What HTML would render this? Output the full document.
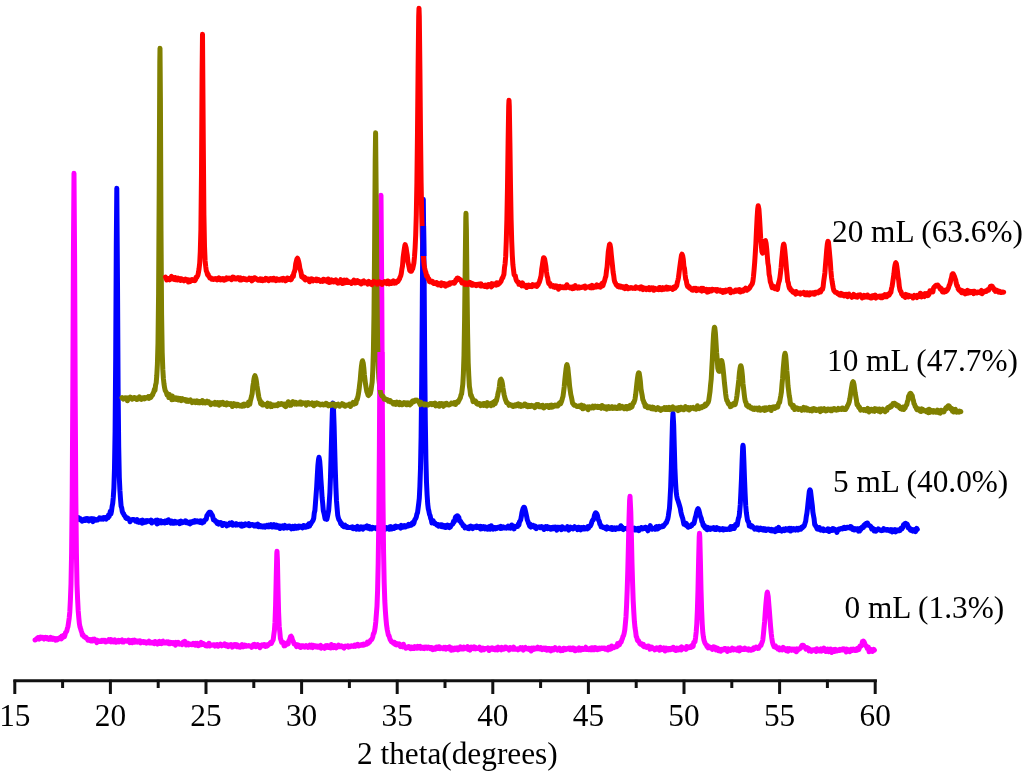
<!DOCTYPE html>
<html><head><meta charset="utf-8"><title>XRD patterns</title>
<style>html,body{margin:0;padding:0;background:#fff;width:1024px;height:779px;overflow:hidden}svg{display:block;filter:blur(0.5px)}</style>
</head><body>
<svg width="1024" height="779" viewBox="0 0 1024 779">
<defs><clipPath id="cp"><rect x="418" y="226" width="11" height="30"/></clipPath><clipPath id="cp2"><rect x="370" y="352" width="20" height="38"/></clipPath></defs>
<rect width="1024" height="779" fill="#fff"/>
<g fill="none" stroke-width="5.0" stroke-linejoin="round" stroke-linecap="round">
<polyline stroke="#0000ff" points="78.5,517.7 79.1,518.1 79.7,519.6 80.3,518.7 80.9,519.4 81.5,519.5 82.1,521.1 82.7,520.6 83.3,519.5 83.9,520.6 84.5,519.0 85.1,519.3 85.7,520.3 86.3,518.6 86.9,519.4 87.5,518.6 88.1,519.7 88.7,520.9 89.3,519.0 89.9,519.8 90.5,518.9 91.1,518.7 91.7,518.6 92.3,520.8 92.9,521.5 93.5,520.0 94.1,519.0 94.7,520.1 95.3,519.3 95.9,520.2 96.5,519.7 97.1,519.7 97.7,519.9 98.3,518.9 98.9,519.0 99.5,517.9 100.1,518.9 100.7,518.1 101.3,519.0 101.9,518.3 102.5,519.0 103.1,519.2 103.7,517.5 104.3,517.9 104.9,517.6 105.5,518.7 106.1,519.2 106.7,518.2 107.3,516.9 107.9,517.9 108.5,515.0 109.1,516.7 109.7,514.1 110.3,511.3 110.9,514.1 111.5,511.3 112.1,506.5 112.7,503.5 113.3,497.2 113.9,487.8 114.5,468.3 115.1,431.3 115.7,357.3 116.3,244.0 116.8,188.2 117.5,283.2 118.1,388.4 118.7,447.1 119.3,477.3 119.9,490.2 120.5,498.9 121.1,506.2 121.7,507.8 122.3,511.5 122.9,512.9 123.5,513.5 124.1,515.1 124.7,515.8 125.3,516.5 125.9,518.0 126.5,518.4 127.1,517.8 127.7,517.9 128.3,519.1 128.9,519.1 129.5,520.2 130.1,521.7 130.7,520.4 131.3,519.8 131.9,519.8 132.5,519.4 133.1,519.4 133.7,519.5 134.3,520.0 134.9,520.1 135.5,521.1 136.1,520.2 136.7,520.5 137.3,519.7 137.9,522.0 138.5,521.2 139.1,522.3 139.7,521.5 140.3,522.1 140.9,520.7 141.5,521.6 142.1,523.2 142.7,520.1 143.3,522.0 143.9,522.5 144.5,521.5 145.1,521.8 145.7,522.2 146.3,520.7 146.9,521.6 147.5,520.6 148.1,520.7 148.7,520.8 149.3,521.2 149.9,521.5 150.5,521.8 151.1,520.2 151.7,523.0 152.3,522.4 152.9,522.1 153.5,521.2 154.1,521.4 154.7,522.0 155.3,521.9 155.9,520.2 156.5,522.2 157.1,524.0 157.7,520.1 158.3,522.4 158.9,521.9 159.5,521.6 160.1,522.8 160.7,520.7 161.3,521.8 161.9,522.9 162.5,521.6 163.1,521.4 163.7,521.8 164.3,521.4 164.9,523.0 165.5,521.0 166.1,522.5 166.7,520.8 167.3,522.4 167.9,521.8 168.5,519.7 169.1,521.9 169.7,521.0 170.3,521.5 170.9,523.2 171.5,521.0 172.1,521.1 172.7,523.1 173.3,522.0 173.9,523.2 174.5,522.2 175.1,521.3 175.7,521.9 176.3,523.0 176.9,522.8 177.5,522.0 178.1,522.1 178.7,522.0 179.3,521.6 179.9,523.7 180.5,522.1 181.1,521.2 181.7,521.7 182.3,522.7 182.9,522.6 183.5,522.0 184.1,521.6 184.7,522.2 185.3,520.8 185.9,521.1 186.5,522.8 187.1,521.8 187.7,522.5 188.3,523.2 188.9,522.7 189.5,522.2 190.1,523.9 190.7,522.8 191.3,521.9 191.9,522.8 192.5,522.5 193.1,521.5 193.7,522.3 194.3,522.1 194.9,520.6 195.5,522.0 196.1,521.9 196.7,521.8 197.3,520.8 197.9,521.8 198.5,522.1 199.1,522.1 199.7,521.1 200.3,522.5 200.9,520.9 201.5,521.7 202.1,522.9 202.7,521.1 203.3,521.0 203.9,522.0 204.5,520.3 205.1,519.8 205.7,519.5 206.3,519.2 206.9,515.4 207.5,515.3 208.1,513.8 208.7,512.9 209.3,512.3 209.9,512.2 210.0,512.2 210.5,512.3 211.1,513.3 211.7,514.7 212.3,515.2 212.9,517.3 213.5,519.8 214.1,519.8 214.7,519.9 215.3,521.2 215.9,521.0 216.5,522.4 217.1,523.3 217.7,522.1 218.3,522.8 218.9,524.1 219.5,522.9 220.1,523.5 220.7,522.6 221.3,522.9 221.9,523.2 222.5,525.5 223.1,523.5 223.7,523.4 224.3,523.5 224.9,523.9 225.5,524.6 226.1,524.2 226.7,525.8 227.3,524.3 227.9,525.4 228.5,524.5 229.1,524.8 229.7,523.2 230.3,524.3 230.9,524.3 231.5,524.2 232.1,522.7 232.7,525.2 233.3,524.2 233.9,524.2 234.5,524.4 235.1,524.5 235.7,525.0 236.3,523.7 236.9,524.0 237.5,525.0 238.1,524.9 238.7,524.5 239.3,524.4 239.9,524.2 240.5,524.9 241.1,525.9 241.7,524.1 242.3,526.2 242.9,525.7 243.5,524.7 244.1,525.7 244.7,524.0 245.3,523.8 245.9,524.2 246.5,524.9 247.1,525.0 247.7,524.9 248.3,525.4 248.9,523.6 249.5,525.8 250.1,524.3 250.7,524.9 251.3,525.1 251.9,524.6 252.5,524.4 253.1,524.7 253.7,525.6 254.3,526.1 254.9,526.1 255.5,524.9 256.1,525.1 256.7,525.0 257.3,526.1 257.9,524.1 258.5,526.8 259.1,525.4 259.7,525.2 260.3,526.1 260.9,526.7 261.5,526.2 262.1,526.8 262.7,526.1 263.3,527.0 263.9,527.0 264.5,526.0 265.1,527.2 265.7,526.3 266.3,526.2 266.9,525.4 267.5,526.0 268.1,526.8 268.7,525.2 269.3,526.8 269.9,526.6 270.5,526.6 271.1,524.6 271.7,526.3 272.3,526.9 272.9,525.8 273.5,526.5 274.1,524.6 274.7,527.0 275.3,526.0 275.9,527.2 276.5,525.1 277.1,527.2 277.7,526.4 278.3,527.3 278.9,525.9 279.5,526.2 280.1,528.5 280.7,526.1 281.3,526.2 281.9,526.6 282.5,526.0 283.1,527.8 283.7,528.2 284.3,526.3 284.9,525.5 285.5,527.8 286.1,527.8 286.7,527.6 287.3,527.9 287.9,526.3 288.5,526.8 289.1,525.9 289.7,525.9 290.3,527.8 290.9,526.5 291.5,528.9 292.1,527.1 292.7,526.5 293.3,527.7 293.9,528.5 294.5,527.5 295.1,526.1 295.7,527.4 296.3,528.2 296.9,526.7 297.5,526.4 298.1,527.9 298.7,527.1 299.3,526.1 299.9,526.7 300.5,526.4 301.1,527.2 301.7,527.0 302.3,527.8 302.9,527.4 303.5,525.5 304.1,527.0 304.7,527.3 305.3,526.9 305.9,527.2 306.5,525.9 307.1,525.4 307.7,526.7 308.3,524.9 308.9,523.8 309.5,526.1 310.1,524.4 310.7,524.2 311.3,522.8 311.9,522.0 312.5,521.1 313.1,520.1 313.7,518.4 314.3,512.8 314.9,510.5 315.5,502.6 316.1,494.7 316.7,486.6 317.3,475.7 317.9,465.5 318.5,459.6 319.0,457.2 319.7,460.9 320.3,468.7 320.9,479.5 321.5,487.9 322.1,497.8 322.7,503.6 323.3,510.5 323.9,512.8 324.5,515.6 325.1,518.9 325.7,518.3 326.3,518.2 326.9,519.3 327.5,516.5 328.1,513.2 328.7,510.2 329.3,501.6 329.9,492.5 330.5,476.9 331.1,455.4 331.7,433.1 332.3,413.4 332.9,403.4 333.0,403.2 333.5,408.9 334.1,425.6 334.7,448.8 335.3,470.2 335.9,487.7 336.5,500.9 337.1,508.2 337.7,515.1 338.3,517.8 338.9,519.6 339.5,520.4 340.1,521.5 340.7,523.6 341.3,523.1 341.9,524.4 342.5,525.7 343.1,526.0 343.7,526.7 344.3,525.5 344.9,525.1 345.5,526.9 346.1,526.5 346.7,527.3 347.3,526.6 347.9,527.6 348.5,527.5 349.1,527.4 349.7,527.4 350.3,527.4 350.9,527.3 351.5,527.3 352.1,528.0 352.7,526.9 353.3,528.7 353.9,527.3 354.5,528.2 355.1,527.4 355.7,527.3 356.3,529.1 356.9,527.3 357.5,526.5 358.1,527.0 358.7,527.3 359.3,529.3 359.9,527.8 360.5,528.4 361.1,526.8 361.7,527.9 362.3,528.2 362.9,529.1 363.5,527.1 364.1,528.2 364.7,528.0 365.3,526.9 365.9,527.7 366.5,527.5 367.1,525.9 367.7,528.2 368.3,528.2 368.9,527.4 369.5,526.7 370.1,528.9 370.7,528.0 371.3,528.6 371.9,528.9 372.5,527.4 373.1,528.4 373.7,527.6 374.3,527.7 374.9,527.7 375.5,527.8 376.1,528.7 376.7,527.9 377.3,527.6 377.9,527.5 378.5,528.0 379.1,527.0 379.7,527.3 380.3,527.7 380.9,527.3 381.5,527.6 382.1,527.2 382.7,529.3 383.3,528.8 383.9,528.0 384.5,527.6 385.1,529.4 385.7,527.9 386.3,527.6 386.9,527.9 387.5,527.9 388.1,528.7 388.7,527.6 389.3,529.3 389.9,526.9 390.5,528.1 391.1,526.7 391.7,529.0 392.3,527.2 392.9,527.4 393.5,528.2 394.1,528.4 394.7,526.5 395.3,527.1 395.9,526.2 396.5,527.4 397.1,527.2 397.7,526.9 398.3,526.6 398.9,526.8 399.5,526.5 400.1,527.5 400.7,528.2 401.3,525.4 401.9,526.8 402.5,526.5 403.1,527.1 403.7,525.9 404.3,526.4 404.9,525.6 405.5,526.9 406.1,526.3 406.7,525.9 407.3,526.2 407.9,525.6 408.5,524.3 409.1,525.8 409.7,525.3 410.3,524.7 410.9,525.3 411.5,525.1 412.1,522.9 412.7,522.6 413.3,523.9 413.9,523.1 414.5,520.6 415.1,519.2 415.7,518.4 416.3,517.0 416.9,514.1 417.5,512.8 418.1,508.3 418.7,503.6 419.3,498.3 419.9,486.2 420.5,468.3 421.1,436.8 421.7,383.1 422.3,303.5 422.9,221.5 423.3,199.2 424.1,274.6 424.7,359.2 425.3,420.3 425.9,459.5 426.5,482.2 427.1,494.9 427.7,503.9 428.3,508.9 428.9,511.2 429.5,514.4 430.1,515.6 430.7,518.5 431.3,519.8 431.9,522.9 432.5,521.7 433.1,520.7 433.7,522.4 434.3,523.5 434.9,522.9 435.5,523.6 436.1,524.3 436.7,525.1 437.3,524.9 437.9,524.6 438.5,526.1 439.1,525.2 439.7,525.4 440.3,524.8 440.9,525.4 441.5,526.6 442.1,524.9 442.7,526.2 443.3,526.9 443.9,526.1 444.5,526.6 445.1,525.5 445.7,527.5 446.3,527.3 446.9,526.6 447.5,525.0 448.1,525.5 448.7,527.1 449.3,527.6 449.9,526.3 450.5,526.8 451.1,525.0 451.7,524.8 452.3,524.3 452.9,523.8 453.5,521.3 454.1,522.0 454.7,521.0 455.3,517.6 455.9,516.5 456.5,516.3 457.1,515.7 457.2,515.7 457.7,516.0 458.3,516.8 458.9,517.6 459.5,521.0 460.1,520.8 460.7,521.5 461.3,523.3 461.9,523.3 462.5,524.3 463.1,525.8 463.7,525.5 464.3,525.9 464.9,527.9 465.5,527.4 466.1,527.5 466.7,527.4 467.3,527.4 467.9,528.3 468.5,527.1 469.1,528.7 469.7,526.5 470.3,527.1 470.9,526.2 471.5,527.1 472.1,527.8 472.7,528.5 473.3,526.9 473.9,527.4 474.5,527.1 475.1,526.9 475.7,526.5 476.3,527.5 476.9,526.1 477.5,527.6 478.1,527.5 478.7,527.0 479.3,526.7 479.9,526.4 480.5,529.0 481.1,526.5 481.7,528.8 482.3,528.0 482.9,527.3 483.5,526.6 484.1,528.4 484.7,528.9 485.3,526.8 485.9,527.3 486.5,528.4 487.1,527.8 487.7,529.2 488.3,527.1 488.9,528.0 489.5,526.6 490.1,529.2 490.7,527.0 491.3,525.8 491.9,527.5 492.5,527.4 493.1,529.1 493.7,527.3 494.3,527.5 494.9,528.0 495.5,528.8 496.1,527.5 496.7,528.4 497.3,527.9 497.9,527.3 498.5,527.6 499.1,527.5 499.7,526.8 500.3,528.5 500.9,526.4 501.5,528.4 502.1,528.3 502.7,527.4 503.3,526.9 503.9,527.3 504.5,527.9 505.1,528.1 505.7,527.7 506.3,528.2 506.9,527.0 507.5,527.6 508.1,526.1 508.7,528.0 509.3,527.5 509.9,527.0 510.5,528.2 511.1,527.8 511.7,525.0 512.3,527.2 512.9,525.9 513.5,527.9 514.1,528.9 514.7,526.4 515.3,526.8 515.9,526.3 516.5,526.6 517.1,526.5 517.7,526.5 518.3,524.0 518.9,525.1 519.5,521.8 520.1,521.0 520.7,519.7 521.3,516.8 521.9,512.8 522.5,510.5 523.1,508.5 523.7,507.4 524.0,507.2 524.3,507.2 524.9,508.9 525.5,511.3 526.1,514.1 526.7,516.7 527.3,520.0 527.9,521.3 528.5,523.3 529.1,524.4 529.7,526.3 530.3,524.1 530.9,527.1 531.5,526.2 532.1,526.5 532.7,526.1 533.3,525.5 533.9,526.8 534.5,526.7 535.1,527.7 535.7,526.2 536.3,528.6 536.9,527.7 537.5,527.4 538.1,527.1 538.7,527.0 539.3,526.8 539.9,527.3 540.5,527.8 541.1,527.6 541.7,526.7 542.3,527.6 542.9,527.1 543.5,528.0 544.1,529.4 544.7,528.4 545.3,527.7 545.9,526.6 546.5,526.8 547.1,526.6 547.7,528.6 548.3,527.4 548.9,528.1 549.5,527.5 550.1,528.1 550.7,529.2 551.3,527.5 551.9,527.8 552.5,527.4 553.1,528.8 553.7,527.3 554.3,527.2 554.9,527.0 555.5,527.0 556.1,528.5 556.7,530.2 557.3,527.3 557.9,528.9 558.5,528.4 559.1,527.3 559.7,527.9 560.3,528.0 560.9,527.6 561.5,529.7 562.1,526.7 562.7,528.5 563.3,528.5 563.9,527.7 564.5,528.3 565.1,528.9 565.7,528.3 566.3,528.6 566.9,528.8 567.5,526.6 568.1,529.4 568.7,530.1 569.3,529.0 569.9,529.0 570.5,527.1 571.1,528.1 571.7,527.6 572.3,527.8 572.9,529.0 573.5,527.6 574.1,528.1 574.7,526.7 575.3,528.1 575.9,528.3 576.5,527.7 577.1,527.6 577.7,529.7 578.3,527.2 578.9,527.4 579.5,527.5 580.1,529.1 580.7,529.8 581.3,528.4 581.9,527.5 582.5,527.7 583.1,528.9 583.7,527.3 584.3,529.1 584.9,529.1 585.5,527.9 586.1,528.3 586.7,528.3 587.3,528.8 587.9,526.6 588.5,528.2 589.1,526.6 589.7,525.9 590.3,526.0 590.9,524.9 591.5,523.1 592.1,521.2 592.7,520.0 593.3,520.0 593.9,518.2 594.5,515.1 595.1,513.6 595.7,512.7 595.8,512.7 596.3,513.2 596.9,514.0 597.5,515.7 598.1,518.6 598.7,520.3 599.3,521.4 599.9,524.1 600.5,524.7 601.1,526.7 601.7,526.5 602.3,526.7 602.9,527.4 603.5,527.4 604.1,527.2 604.7,527.5 605.3,528.5 605.9,528.5 606.5,529.1 607.1,526.8 607.7,527.9 608.3,527.9 608.9,528.4 609.5,528.0 610.1,527.9 610.7,529.0 611.3,528.6 611.9,527.5 612.5,529.5 613.1,529.3 613.7,528.0 614.3,529.2 614.9,527.9 615.5,529.4 616.1,528.4 616.7,527.9 617.3,528.3 617.9,528.0 618.5,528.8 619.1,528.7 619.7,528.6 620.3,528.2 620.9,525.7 621.5,528.7 622.1,527.1 622.7,528.8 623.3,529.6 623.9,528.9 624.5,528.4 625.1,528.5 625.7,528.6 626.3,528.2 626.9,528.2 627.5,528.0 628.1,529.6 628.7,528.7 629.3,529.5 629.9,528.5 630.5,528.8 631.1,528.6 631.7,529.1 632.3,529.4 632.9,528.9 633.5,528.2 634.1,528.1 634.7,530.0 635.3,528.5 635.9,528.5 636.5,529.9 637.1,529.6 637.7,529.1 638.3,528.4 638.9,530.6 639.5,529.0 640.1,529.1 640.7,528.5 641.3,527.5 641.9,527.6 642.5,529.0 643.1,528.9 643.7,528.4 644.3,527.7 644.9,527.4 645.5,528.3 646.1,527.4 646.7,529.3 647.3,529.5 647.9,530.8 648.5,529.2 649.1,528.0 649.7,527.7 650.3,525.6 650.9,527.9 651.5,528.2 652.1,529.1 652.7,528.7 653.3,528.7 653.9,528.3 654.5,528.6 655.1,529.2 655.7,527.1 656.3,527.5 656.9,526.7 657.5,529.0 658.1,528.6 658.7,528.1 659.3,526.4 659.9,527.3 660.5,526.8 661.1,526.9 661.7,526.4 662.3,526.7 662.9,525.7 663.5,526.3 664.1,525.3 664.7,524.4 665.3,523.9 665.9,522.8 666.5,522.7 667.1,520.5 667.7,519.2 668.3,516.2 668.9,511.8 669.5,508.2 670.1,498.2 670.7,486.6 671.3,467.8 671.9,443.3 672.5,421.3 673.0,413.2 673.7,425.5 674.3,447.0 674.9,468.2 675.5,481.7 676.1,491.2 676.7,495.7 677.3,498.9 677.9,500.4 678.5,502.2 678.5,502.2 679.1,504.2 679.7,506.3 680.3,508.4 680.9,512.0 681.5,514.8 682.1,516.7 682.7,518.3 683.3,521.2 683.9,524.2 684.5,523.1 685.1,524.5 685.7,525.2 686.3,523.3 686.9,525.9 687.5,525.5 688.1,527.3 688.7,526.2 689.3,525.8 689.9,526.2 690.5,526.4 691.1,525.6 691.7,525.7 692.3,524.1 692.9,524.1 693.5,523.8 694.1,523.1 694.7,520.2 695.3,517.5 695.9,515.7 696.5,512.8 697.1,510.7 697.7,509.0 698.0,508.7 698.3,508.9 698.9,510.3 699.5,512.6 700.1,515.2 700.7,517.0 701.3,518.4 701.9,521.6 702.5,522.2 703.1,525.2 703.7,526.1 704.3,525.4 704.9,527.8 705.5,528.3 706.1,527.9 706.7,529.4 707.3,529.7 707.9,527.4 708.5,529.3 709.1,528.9 709.7,528.9 710.3,529.4 710.9,528.1 711.5,528.3 712.1,528.1 712.7,528.2 713.3,528.8 713.9,527.7 714.5,528.1 715.1,529.4 715.7,528.9 716.3,529.3 716.9,527.5 717.5,528.4 718.1,528.6 718.7,529.0 719.3,528.6 719.9,529.8 720.5,529.0 721.1,529.0 721.7,529.0 722.3,529.6 722.9,528.6 723.5,529.9 724.1,529.3 724.7,529.0 725.3,528.9 725.9,529.2 726.5,529.6 727.1,529.5 727.7,529.0 728.3,529.3 728.9,528.6 729.5,529.4 730.1,528.3 730.7,526.5 731.3,529.1 731.9,528.0 732.5,526.7 733.1,527.3 733.7,526.5 734.3,528.5 734.9,526.8 735.5,524.6 736.1,525.7 736.7,524.1 737.3,524.9 737.9,521.0 738.5,518.0 739.1,516.7 739.7,511.6 740.3,504.2 740.9,491.8 741.5,478.7 742.1,461.4 742.7,447.0 743.0,445.2 743.3,447.2 743.9,461.7 744.5,478.7 745.1,493.4 745.7,505.4 746.3,512.4 746.9,516.3 747.5,520.4 748.1,521.5 748.7,522.0 749.3,526.1 749.9,525.1 750.5,525.5 751.1,526.8 751.7,525.7 752.3,526.2 752.9,527.2 753.5,527.4 754.1,528.1 754.7,529.1 755.3,528.0 755.9,528.9 756.5,529.1 757.1,527.9 757.7,529.0 758.3,528.2 758.9,529.8 759.5,529.4 760.1,529.1 760.7,528.1 761.3,529.3 761.9,528.7 762.5,529.9 763.1,529.3 763.7,528.7 764.3,530.2 764.9,530.0 765.5,529.0 766.1,530.4 766.7,529.3 767.3,529.3 767.9,529.7 768.5,529.0 769.1,529.2 769.7,529.5 770.3,530.8 770.9,530.8 771.5,529.4 772.1,530.9 772.7,529.6 773.3,530.0 773.9,530.4 774.5,529.9 775.1,531.6 775.7,529.9 776.3,528.8 776.9,530.8 777.5,529.4 778.1,529.5 778.7,527.3 779.3,530.5 779.9,530.4 780.5,530.4 781.1,530.5 781.7,531.1 782.3,529.7 782.9,530.5 783.5,529.1 784.1,529.5 784.7,530.6 785.3,530.0 785.9,528.7 786.5,530.0 787.1,529.6 787.7,529.0 788.3,530.0 788.9,529.4 789.5,528.4 790.1,528.8 790.7,531.0 791.3,528.4 791.9,529.8 792.5,530.1 793.1,530.0 793.7,528.5 794.3,529.2 794.9,529.5 795.5,530.0 796.1,528.8 796.7,528.3 797.3,530.0 797.9,530.0 798.5,529.3 799.1,528.4 799.7,529.1 800.3,528.7 800.9,529.1 801.5,527.2 802.1,528.0 802.7,527.4 803.3,526.1 803.9,526.4 804.5,525.1 805.1,523.0 805.7,521.2 806.3,516.5 806.9,513.3 807.5,508.4 808.1,502.5 808.7,497.1 809.3,491.6 809.9,489.7 810.0,489.7 810.5,490.9 811.1,495.7 811.7,500.7 812.3,505.5 812.9,512.3 813.5,515.6 814.1,518.8 814.7,524.8 815.3,524.9 815.9,526.5 816.5,527.3 817.1,528.9 817.7,528.1 818.3,529.2 818.9,527.6 819.5,527.6 820.1,530.0 820.7,530.2 821.3,529.5 821.9,529.4 822.5,529.4 823.1,528.8 823.7,530.7 824.3,530.0 824.9,530.0 825.5,529.9 826.1,530.5 826.7,530.1 827.3,530.3 827.9,528.8 828.5,530.2 829.1,531.5 829.7,529.4 830.3,529.7 830.9,530.6 831.5,530.6 832.1,530.4 832.7,528.6 833.3,530.3 833.9,528.9 834.5,529.2 835.1,530.3 835.7,529.6 836.3,530.5 836.9,532.4 837.5,530.5 838.1,530.4 838.7,529.0 839.3,529.2 839.9,528.8 840.5,529.1 841.1,528.5 841.7,528.7 842.3,528.9 842.9,528.1 843.5,527.5 844.1,527.3 844.7,528.5 845.3,528.0 845.9,528.5 846.5,528.1 847.1,527.2 847.7,527.3 848.0,527.2 848.3,527.5 848.9,527.7 849.5,527.3 850.1,526.7 850.7,528.2 851.3,526.7 851.9,527.8 852.5,529.3 853.1,528.9 853.7,528.7 854.3,530.0 854.9,528.5 855.5,529.7 856.1,529.1 856.7,528.9 857.3,530.0 857.9,528.8 858.5,531.1 859.1,529.1 859.7,531.0 860.3,528.4 860.9,529.5 861.5,527.7 862.1,527.1 862.7,527.8 863.3,527.5 863.9,525.2 864.5,526.3 865.1,524.0 865.7,523.8 866.3,523.4 866.8,523.2 867.5,523.0 868.1,525.0 868.7,525.4 869.3,525.5 869.9,525.9 870.5,526.1 871.1,527.0 871.7,529.0 872.3,528.7 872.9,528.4 873.5,529.1 874.1,531.0 874.7,529.6 875.3,529.5 875.9,531.1 876.5,530.4 877.1,530.1 877.7,529.7 878.3,528.9 878.9,529.3 879.5,529.8 880.1,530.1 880.7,530.5 881.3,530.7 881.9,530.5 882.5,530.5 883.1,529.5 883.7,528.6 884.3,529.9 884.9,529.6 885.5,529.8 886.1,530.1 886.7,529.4 887.3,529.5 887.9,530.3 888.5,530.5 889.1,529.8 889.7,530.8 890.3,530.2 890.9,529.6 891.5,530.4 892.1,531.9 892.7,529.8 893.3,531.3 893.9,531.4 894.5,531.5 895.1,529.6 895.7,531.9 896.3,530.3 896.9,530.0 897.5,530.0 898.1,530.6 898.7,530.0 899.3,529.7 899.9,530.7 900.5,528.8 901.1,528.1 901.7,529.0 902.3,528.1 902.9,527.5 903.5,524.7 904.1,525.2 904.7,523.8 905.3,523.4 905.5,523.2 905.9,523.4 906.5,523.9 907.1,523.9 907.7,525.4 908.3,527.9 908.9,527.5 909.5,528.0 910.1,529.8 910.7,530.3 911.3,530.6 911.9,529.4 912.5,530.1 913.1,531.0 913.7,529.8 914.3,529.7 914.9,531.0 915.5,531.7 916.1,529.5 916.7,528.4 917.3,529.3"/>
<polyline stroke="#ff00ff" points="35.0,640.0 35.6,639.9 36.2,639.2 36.8,638.4 37.4,638.4 38.0,637.7 38.6,638.3 39.2,639.0 39.8,637.2 40.4,637.1 41.0,638.2 41.6,638.2 42.2,638.2 42.8,637.5 43.4,638.3 44.0,639.1 44.6,637.6 45.2,638.4 45.8,637.4 46.4,638.0 47.0,637.6 47.6,638.9 48.2,638.1 48.8,639.4 49.4,639.3 50.0,639.1 50.6,637.3 51.2,638.9 51.8,639.3 52.4,639.4 53.0,638.1 53.6,638.9 54.2,638.5 54.8,638.6 55.4,640.1 56.0,638.6 56.6,639.1 57.2,639.8 57.8,638.6 58.4,638.8 59.0,638.8 59.6,638.6 60.2,637.3 60.8,638.1 61.4,638.8 62.0,636.1 62.6,637.6 63.2,636.6 63.8,635.4 64.4,636.8 65.0,635.0 65.6,632.4 66.2,632.1 66.8,631.0 67.4,628.3 68.0,626.4 68.6,622.3 69.2,618.1 69.8,611.9 70.4,600.0 71.0,583.9 71.6,552.8 72.2,495.8 72.8,394.6 73.4,255.9 74.0,173.2 74.6,256.3 75.2,395.8 75.8,494.9 76.4,552.7 77.0,584.5 77.6,599.2 78.2,610.7 78.8,617.8 79.4,623.8 80.0,626.9 80.6,628.7 81.2,630.8 81.8,632.5 82.4,635.2 83.0,634.7 83.6,635.7 84.2,637.0 84.8,637.2 85.4,637.7 86.0,637.3 86.6,638.6 87.2,638.6 87.8,640.1 88.4,639.9 89.0,639.6 89.6,640.3 90.2,639.7 90.8,640.9 91.4,640.2 92.0,640.8 92.6,639.4 93.2,640.8 93.8,639.2 94.4,639.0 95.0,640.5 95.6,640.1 96.2,641.0 96.8,642.7 97.4,640.3 98.0,640.5 98.6,641.2 99.2,641.4 99.8,640.9 100.4,640.9 101.0,641.6 101.6,641.5 102.2,640.3 102.8,641.1 103.4,641.2 104.0,640.3 104.6,641.4 105.2,640.5 105.8,642.0 106.4,641.3 107.0,641.3 107.6,640.7 108.2,641.1 108.8,639.6 109.4,640.3 110.0,641.5 110.6,639.5 111.2,641.9 111.8,639.8 112.4,641.8 113.0,640.5 113.6,641.8 114.2,641.3 114.8,639.9 115.4,642.1 116.0,642.3 116.6,641.1 117.2,640.9 117.8,641.0 118.4,640.3 119.0,642.0 119.6,640.6 120.2,641.0 120.8,640.4 121.4,640.5 122.0,640.0 122.6,642.0 123.2,640.9 123.8,641.8 124.4,641.0 125.0,640.5 125.6,640.8 126.2,640.7 126.8,641.2 127.4,640.9 128.0,641.0 128.6,640.1 129.2,640.6 129.8,642.6 130.4,640.8 131.0,640.5 131.6,641.7 132.2,642.6 132.8,640.3 133.4,641.3 134.0,641.0 134.6,640.1 135.2,642.2 135.8,641.6 136.4,641.7 137.0,641.1 137.6,642.1 138.2,641.3 138.8,641.6 139.4,640.9 140.0,640.8 140.6,642.9 141.2,641.5 141.8,642.1 142.4,641.9 143.0,641.6 143.6,641.6 144.2,642.5 144.8,641.8 145.4,641.9 146.0,642.1 146.6,643.1 147.2,642.7 147.8,642.5 148.4,641.8 149.0,641.1 149.6,643.0 150.2,643.1 150.8,642.2 151.4,642.8 152.0,643.0 152.6,643.1 153.2,643.2 153.8,642.1 154.4,643.7 155.0,641.5 155.6,643.2 156.2,643.0 156.8,643.3 157.4,644.1 158.0,643.8 158.6,641.8 159.2,641.4 159.8,643.4 160.4,642.0 161.0,642.8 161.6,643.5 162.2,641.5 162.8,641.2 163.4,643.1 164.0,643.0 164.6,642.8 165.2,643.0 165.8,642.3 166.4,641.8 167.0,642.9 167.6,642.3 168.2,641.8 168.8,643.6 169.4,643.1 170.0,643.5 170.6,642.4 171.2,642.7 171.8,642.5 172.4,642.6 173.0,643.5 173.6,642.7 174.2,643.7 174.8,643.7 175.4,645.1 176.0,642.4 176.6,644.2 177.2,643.5 177.8,643.5 178.4,642.4 179.0,643.2 179.6,644.2 180.2,643.6 180.8,643.8 181.4,643.5 182.0,644.7 182.6,643.8 183.2,642.0 183.8,643.3 184.4,642.3 185.0,641.3 185.6,643.5 186.2,645.0 186.8,644.0 187.4,643.0 188.0,643.3 188.6,644.9 189.2,644.2 189.8,644.1 190.4,644.1 191.0,644.2 191.6,644.8 192.2,644.6 192.8,644.4 193.4,643.4 194.0,644.6 194.6,643.7 195.2,645.1 195.8,643.3 196.4,644.2 197.0,644.3 197.6,643.3 198.2,645.7 198.8,645.6 199.4,644.0 200.0,645.0 200.6,644.8 201.2,642.4 201.8,644.7 202.4,644.5 203.0,644.6 203.6,643.7 204.2,644.3 204.8,644.4 205.4,645.6 206.0,644.9 206.6,644.6 207.2,645.9 207.8,644.2 208.4,644.4 209.0,643.3 209.6,646.0 210.2,645.5 210.8,645.5 211.4,645.3 212.0,644.9 212.6,645.0 213.2,644.7 213.8,644.7 214.4,644.9 215.0,646.1 215.6,645.4 216.2,644.9 216.8,644.5 217.4,644.5 218.0,646.3 218.6,645.4 219.2,645.1 219.8,644.8 220.4,644.2 221.0,645.0 221.6,645.8 222.2,644.8 222.8,645.0 223.4,645.0 224.0,645.3 224.6,643.9 225.2,645.0 225.8,644.6 226.4,646.0 227.0,644.7 227.6,645.8 228.2,646.5 228.8,645.1 229.4,644.9 230.0,645.5 230.6,645.4 231.2,644.6 231.8,645.8 232.4,647.1 233.0,645.3 233.6,645.3 234.2,644.7 234.8,645.8 235.4,644.5 236.0,644.7 236.6,646.6 237.2,644.9 237.8,646.5 238.4,646.8 239.0,645.8 239.6,646.1 240.2,647.2 240.8,645.5 241.4,645.2 242.0,644.6 242.6,645.8 243.2,646.9 243.8,646.5 244.4,645.0 245.0,645.1 245.6,645.4 246.2,646.1 246.8,645.7 247.4,646.0 248.0,646.1 248.6,645.6 249.2,645.9 249.8,646.1 250.4,645.9 251.0,646.3 251.6,647.4 252.2,646.4 252.8,646.0 253.4,644.6 254.0,646.3 254.6,644.4 255.2,644.9 255.8,646.7 256.4,646.6 257.0,645.9 257.6,644.6 258.2,645.7 258.8,645.4 259.4,646.4 260.0,647.7 260.6,646.0 261.2,645.2 261.8,644.9 262.4,645.7 263.0,645.6 263.6,644.8 264.2,645.7 264.8,644.6 265.4,646.4 266.0,646.2 266.6,646.2 267.2,644.8 267.8,645.4 268.4,644.7 269.0,644.3 269.6,644.0 270.2,642.9 270.8,642.3 271.4,643.5 272.0,641.8 272.6,640.9 273.2,639.8 273.8,634.9 274.4,630.7 275.0,622.2 275.6,605.2 276.2,578.2 276.8,553.5 277.0,551.2 277.4,559.5 278.0,587.7 278.6,612.3 279.2,626.2 279.8,631.8 280.4,638.4 281.0,640.1 281.6,642.2 282.2,641.9 282.8,642.7 283.4,642.6 284.0,645.9 284.6,644.0 285.2,645.6 285.8,644.0 286.4,644.6 287.0,643.0 287.6,643.5 288.2,643.8 288.8,640.7 289.4,640.7 290.0,638.2 290.6,636.4 291.0,636.2 291.8,637.4 292.4,639.6 293.0,641.1 293.6,642.5 294.2,644.0 294.8,644.2 295.4,644.4 296.0,645.6 296.6,646.5 297.2,644.7 297.8,646.0 298.4,645.6 299.0,645.4 299.6,646.9 300.2,645.9 300.8,647.5 301.4,645.7 302.0,646.7 302.6,646.2 303.2,645.8 303.8,646.9 304.4,646.3 305.0,647.0 305.6,646.5 306.2,645.7 306.8,646.5 307.4,646.6 308.0,647.3 308.6,645.9 309.2,646.6 309.8,645.2 310.4,647.1 311.0,645.8 311.6,645.2 312.2,646.6 312.8,647.5 313.4,645.4 314.0,645.8 314.6,646.1 315.2,645.8 315.8,647.0 316.4,646.0 317.0,646.1 317.6,647.2 318.2,646.1 318.8,647.1 319.4,645.9 320.0,645.8 320.6,645.3 321.2,648.2 321.8,646.5 322.4,646.9 323.0,646.7 323.6,646.9 324.2,646.8 324.8,648.3 325.4,645.9 326.0,645.5 326.6,646.0 327.2,645.7 327.8,647.4 328.4,647.4 329.0,646.0 329.6,645.7 330.2,646.5 330.8,647.9 331.4,644.5 332.0,647.2 332.6,645.9 333.2,647.6 333.8,645.9 334.4,646.5 335.0,645.6 335.6,646.0 336.2,647.9 336.8,647.4 337.4,646.4 338.0,646.1 338.6,645.2 339.2,646.4 339.8,646.7 340.4,646.7 341.0,646.7 341.6,645.8 342.2,646.7 342.8,646.7 343.4,647.7 344.0,648.2 344.6,646.6 345.2,646.1 345.8,646.6 346.4,646.2 347.0,646.0 347.6,646.6 348.2,645.8 348.8,647.1 349.4,646.5 350.0,646.7 350.6,646.4 351.2,645.9 351.8,645.7 352.4,646.2 353.0,645.9 353.6,646.5 354.2,646.3 354.8,645.2 355.4,646.3 356.0,645.1 356.6,645.6 357.2,645.8 357.8,644.3 358.4,646.0 359.0,646.0 359.6,645.6 360.2,645.3 360.8,645.3 361.4,644.7 362.0,645.1 362.6,644.8 363.2,645.2 363.8,644.0 364.4,644.9 365.0,644.7 365.6,644.2 366.2,643.7 366.8,644.2 367.4,642.1 368.0,643.5 368.6,642.9 369.2,642.4 369.8,641.9 370.4,640.4 371.0,639.9 371.6,639.7 372.2,638.4 372.8,636.8 373.4,633.7 374.0,633.2 374.6,630.9 375.2,627.2 375.8,621.8 376.4,613.7 377.0,606.1 377.6,590.1 378.2,562.7 378.8,520.6 379.4,445.3 380.0,337.4 380.6,225.5 381.0,195.2 381.8,297.3 382.4,413.8 383.0,500.9 383.6,553.9 384.2,583.2 384.8,601.0 385.4,611.3 386.0,619.2 386.6,625.4 387.2,629.4 387.8,632.2 388.4,635.2 389.0,635.7 389.6,637.8 390.2,639.6 390.8,640.5 391.4,641.8 392.0,641.9 392.6,642.0 393.2,643.1 393.8,642.4 394.4,642.3 395.0,644.4 395.6,644.3 396.2,644.8 396.8,643.5 397.4,644.7 398.0,644.8 398.6,644.7 399.2,643.8 399.8,645.5 400.4,646.6 401.0,646.3 401.6,645.6 402.2,646.2 402.8,646.9 403.4,644.2 404.0,646.4 404.6,647.0 405.2,647.2 405.8,648.1 406.4,647.7 407.0,647.1 407.6,647.1 408.2,647.6 408.8,646.5 409.4,647.0 410.0,647.8 410.6,648.7 411.2,647.0 411.8,647.1 412.4,647.4 413.0,648.3 413.6,647.3 414.2,648.5 414.8,646.6 415.4,647.2 416.0,647.3 416.6,648.1 417.2,648.3 417.8,646.3 418.4,646.8 419.0,647.8 419.6,647.0 420.2,646.4 420.8,648.4 421.4,648.0 422.0,648.0 422.6,647.3 423.2,648.5 423.8,647.5 424.4,648.6 425.0,647.0 425.6,647.1 426.2,647.9 426.8,647.2 427.4,648.3 428.0,648.0 428.6,647.1 429.2,647.9 429.8,647.6 430.4,648.6 431.0,647.4 431.6,647.5 432.2,648.9 432.8,649.7 433.4,649.5 434.0,648.0 434.6,648.1 435.2,649.2 435.8,647.9 436.4,647.2 437.0,648.1 437.6,648.4 438.2,647.4 438.8,646.7 439.4,646.9 440.0,648.6 440.6,647.5 441.2,648.0 441.8,648.3 442.4,648.6 443.0,647.8 443.6,648.5 444.2,647.4 444.8,647.9 445.4,647.3 446.0,649.1 446.6,648.2 447.2,647.6 447.8,647.9 448.4,648.0 449.0,648.8 449.6,646.9 450.2,647.4 450.8,647.9 451.4,650.3 452.0,649.0 452.6,648.2 453.2,648.8 453.8,649.9 454.4,648.1 455.0,648.0 455.6,649.3 456.2,648.7 456.8,648.9 457.4,647.9 458.0,649.9 458.6,649.7 459.2,648.8 459.8,648.9 460.4,646.8 461.0,648.9 461.6,648.2 462.2,648.7 462.8,649.0 463.4,648.1 464.0,647.1 464.6,648.7 465.2,647.8 465.8,648.2 466.4,648.0 467.0,648.2 467.6,646.6 468.2,649.5 468.8,648.7 469.4,649.4 470.0,650.1 470.6,648.5 471.2,647.1 471.8,647.8 472.4,647.6 473.0,648.1 473.6,648.6 474.2,646.9 474.8,648.8 475.4,647.3 476.0,648.8 476.6,648.5 477.2,648.3 477.8,648.5 478.4,648.1 479.0,648.1 479.6,647.2 480.2,648.5 480.8,650.1 481.4,650.2 482.0,649.6 482.6,649.2 483.2,648.1 483.8,649.8 484.4,648.6 485.0,648.5 485.6,648.4 486.2,648.7 486.8,648.3 487.4,648.6 488.0,647.8 488.6,648.3 489.2,650.5 489.8,648.6 490.4,648.4 491.0,649.1 491.6,649.2 492.2,647.8 492.8,648.5 493.4,649.4 494.0,648.9 494.6,648.8 495.2,649.9 495.8,648.1 496.4,648.7 497.0,648.3 497.6,649.9 498.2,647.1 498.8,648.2 499.4,648.3 500.0,649.2 500.6,649.2 501.2,649.8 501.8,647.4 502.4,649.3 503.0,648.5 503.6,648.2 504.2,649.2 504.8,648.0 505.4,647.1 506.0,648.4 506.6,647.5 507.2,648.2 507.8,649.0 508.4,649.0 509.0,650.0 509.6,648.6 510.2,647.5 510.8,648.2 511.4,648.0 512.0,647.8 512.6,649.1 513.2,648.3 513.8,647.2 514.4,649.3 515.0,648.7 515.6,649.1 516.2,648.9 516.8,649.3 517.4,648.8 518.0,649.8 518.6,649.1 519.2,649.1 519.8,649.1 520.4,647.6 521.0,648.7 521.6,648.6 522.2,649.0 522.8,647.7 523.4,650.1 524.0,648.9 524.6,647.9 525.2,647.5 525.8,648.6 526.4,648.8 527.0,648.3 527.6,648.9 528.2,648.3 528.8,649.3 529.4,648.3 530.0,648.8 530.6,649.6 531.2,650.9 531.8,648.1 532.4,648.5 533.0,648.2 533.6,649.5 534.2,648.0 534.8,648.5 535.4,648.9 536.0,648.1 536.6,648.1 537.2,648.5 537.8,647.2 538.4,647.7 539.0,648.6 539.6,649.0 540.2,648.8 540.8,647.5 541.4,648.5 542.0,649.6 542.6,649.4 543.2,648.9 543.8,648.2 544.4,649.4 545.0,648.5 545.6,648.0 546.2,648.3 546.8,650.1 547.4,649.1 548.0,649.9 548.6,648.6 549.2,649.7 549.8,648.5 550.4,648.8 551.0,650.9 551.6,649.6 552.2,648.5 552.8,648.9 553.4,649.2 554.0,649.9 554.6,648.6 555.2,647.6 555.8,648.7 556.4,649.0 557.0,649.1 557.6,650.0 558.2,649.2 558.8,649.6 559.4,648.1 560.0,649.7 560.6,650.6 561.2,649.6 561.8,649.2 562.4,649.1 563.0,650.4 563.6,648.2 564.2,648.9 564.8,649.3 565.4,649.6 566.0,648.6 566.6,649.2 567.2,648.8 567.8,649.1 568.4,648.9 569.0,648.1 569.6,649.0 570.2,649.7 570.8,648.2 571.4,648.8 572.0,649.5 572.6,648.1 573.2,649.1 573.8,648.1 574.4,649.9 575.0,650.8 575.6,650.6 576.2,648.8 576.8,649.6 577.4,649.1 578.0,649.0 578.6,650.2 579.2,647.9 579.8,649.8 580.4,648.9 581.0,650.1 581.6,649.1 582.2,648.4 582.8,649.2 583.4,649.5 584.0,649.0 584.6,649.3 585.2,648.5 585.8,647.2 586.4,649.6 587.0,649.5 587.6,649.0 588.2,648.9 588.8,649.7 589.4,648.5 590.0,648.3 590.6,648.7 591.2,649.8 591.8,647.7 592.4,649.8 593.0,648.3 593.6,647.9 594.2,649.8 594.8,648.7 595.4,647.7 596.0,648.5 596.6,649.5 597.2,649.7 597.8,648.4 598.4,649.0 599.0,649.2 599.6,648.1 600.2,648.9 600.8,648.6 601.4,648.1 602.0,648.1 602.6,648.5 603.2,648.5 603.8,648.0 604.4,648.0 605.0,649.2 605.6,648.5 606.2,648.9 606.8,649.1 607.4,648.6 608.0,649.9 608.6,647.3 609.2,648.6 609.8,647.6 610.4,649.2 611.0,649.0 611.6,646.0 612.2,646.6 612.8,647.8 613.4,647.8 614.0,647.6 614.6,646.7 615.2,646.9 615.8,646.9 616.4,646.0 617.0,646.6 617.6,643.6 618.2,645.5 618.8,643.7 619.4,644.8 620.0,643.2 620.6,641.9 621.2,642.0 621.8,639.9 622.4,638.6 623.0,636.4 623.6,635.5 624.2,633.1 624.8,629.7 625.4,623.4 626.0,616.7 626.6,605.0 627.2,589.9 627.8,570.5 628.4,546.3 629.0,519.8 629.6,500.5 630.0,496.2 630.8,512.2 631.4,536.5 632.0,563.2 632.6,583.6 633.2,600.9 633.8,612.0 634.4,621.6 635.0,627.7 635.6,631.3 636.2,636.4 636.8,637.4 637.4,640.3 638.0,641.1 638.6,640.9 639.2,642.1 639.8,643.6 640.4,644.0 641.0,644.5 641.6,644.7 642.2,643.9 642.8,645.6 643.4,644.3 644.0,646.7 644.6,646.0 645.2,646.3 645.8,646.9 646.4,647.4 647.0,646.2 647.6,646.1 648.2,646.8 648.8,646.1 649.4,647.1 650.0,649.2 650.6,647.2 651.2,648.7 651.8,647.1 652.4,648.5 653.0,648.1 653.6,648.4 654.2,648.9 654.8,649.9 655.4,648.7 656.0,648.7 656.6,647.9 657.2,649.2 657.8,648.5 658.4,649.4 659.0,648.8 659.6,650.2 660.2,647.3 660.8,648.6 661.4,649.6 662.0,648.6 662.6,648.3 663.2,648.7 663.8,647.9 664.4,649.1 665.0,651.0 665.6,649.9 666.2,648.1 666.8,648.3 667.4,648.7 668.0,649.9 668.6,648.4 669.2,648.5 669.8,649.8 670.4,649.8 671.0,648.8 671.6,648.2 672.2,647.8 672.8,648.5 673.4,647.3 674.0,649.7 674.6,648.6 675.2,649.4 675.8,650.5 676.4,650.0 677.0,648.1 677.6,649.7 678.2,649.9 678.8,648.4 679.4,648.2 680.0,648.8 680.6,647.6 681.2,650.0 681.8,646.9 682.4,647.9 683.0,648.5 683.6,648.5 684.2,648.7 684.8,648.8 685.4,648.3 686.0,649.3 686.6,646.5 687.2,648.1 687.8,647.4 688.4,647.9 689.0,647.8 689.6,646.7 690.2,646.6 690.8,647.4 691.4,646.6 692.0,645.3 692.6,646.8 693.2,646.2 693.8,642.1 694.4,642.0 695.0,641.7 695.6,637.3 696.2,632.0 696.8,623.6 697.4,609.9 698.0,589.3 698.6,561.4 699.2,537.3 699.5,533.2 699.8,537.1 700.4,561.1 701.0,589.4 701.6,609.6 702.2,623.6 702.8,632.7 703.4,637.0 704.0,640.2 704.6,642.1 705.2,643.4 705.8,644.3 706.4,645.0 707.0,646.5 707.6,645.6 708.2,647.9 708.8,647.2 709.4,646.9 710.0,647.4 710.6,647.4 711.2,648.3 711.8,647.7 712.4,649.3 713.0,647.9 713.6,646.8 714.2,648.1 714.8,647.2 715.4,648.9 716.0,649.8 716.6,649.5 717.2,648.0 717.8,648.5 718.4,650.6 719.0,649.4 719.6,649.2 720.2,650.1 720.8,651.2 721.4,650.3 722.0,649.4 722.6,649.6 723.2,649.9 723.8,648.9 724.4,648.6 725.0,649.5 725.6,648.7 726.2,649.4 726.8,649.6 727.4,651.4 728.0,648.8 728.6,649.4 729.2,649.4 729.8,649.9 730.4,650.4 731.0,649.1 731.6,648.9 732.2,648.2 732.8,648.8 733.4,650.0 734.0,649.6 734.6,648.8 735.2,649.3 735.8,649.6 736.4,650.0 737.0,649.1 737.6,649.4 738.2,648.1 738.8,648.6 739.4,650.9 740.0,647.8 740.6,649.3 741.2,649.7 741.8,649.2 742.4,648.9 743.0,649.5 743.6,649.5 744.2,649.4 744.8,648.0 745.4,649.3 746.0,648.8 746.6,649.0 747.2,649.6 747.8,649.9 748.4,650.1 749.0,648.9 749.6,650.0 750.2,650.2 750.8,650.1 751.4,650.2 752.0,649.0 752.6,648.9 753.2,649.6 753.8,647.8 754.4,648.9 755.0,648.2 755.6,648.2 756.2,647.0 756.8,647.5 757.4,648.0 758.0,648.5 758.6,648.3 759.2,647.1 759.8,646.5 760.4,645.3 761.0,645.4 761.6,643.5 762.2,642.1 762.8,640.1 763.4,634.6 764.0,628.0 764.6,621.7 765.2,613.2 765.8,605.2 766.4,598.8 767.0,593.3 767.4,592.2 768.2,596.5 768.8,604.0 769.4,611.3 770.0,619.3 770.6,626.8 771.2,633.3 771.8,638.1 772.4,641.8 773.0,644.1 773.6,645.7 774.2,646.9 774.8,647.0 775.4,645.8 776.0,647.4 776.6,648.0 777.2,647.7 777.8,649.0 778.4,648.2 779.0,647.9 779.6,649.9 780.2,649.4 780.8,649.1 781.4,649.8 782.0,650.0 782.6,649.5 783.2,647.3 783.8,648.8 784.4,649.0 785.0,648.6 785.6,649.6 786.2,650.5 786.8,649.2 787.4,648.7 788.0,651.2 788.6,649.3 789.2,648.7 789.8,649.8 790.4,650.0 791.0,649.1 791.6,650.3 792.2,649.3 792.8,649.0 793.4,649.8 794.0,650.3 794.6,649.2 795.2,649.9 795.8,649.5 796.4,651.8 797.0,648.9 797.6,650.4 798.2,649.1 798.8,648.7 799.4,648.9 800.0,648.6 800.6,648.2 801.2,646.8 801.8,645.6 802.4,645.3 803.0,645.2 803.6,645.5 804.2,646.6 804.8,646.9 805.4,648.1 806.0,649.1 806.6,648.6 807.2,647.7 807.8,648.3 808.4,648.3 809.0,650.9 809.6,649.1 810.2,650.8 810.8,650.3 811.4,651.3 812.0,650.8 812.6,649.9 813.2,649.8 813.8,650.1 814.4,650.2 815.0,649.6 815.6,650.1 816.2,651.4 816.8,648.7 817.4,650.3 818.0,649.4 818.6,650.3 819.2,650.8 819.8,650.1 820.4,650.8 821.0,648.9 821.6,651.1 822.2,649.7 822.8,650.7 823.4,650.3 824.0,648.1 824.6,649.6 825.2,650.4 825.8,651.5 826.4,650.5 827.0,650.4 827.6,649.1 828.2,651.4 828.8,651.7 829.4,650.3 830.0,650.1 830.6,649.0 831.2,651.0 831.8,652.4 832.4,650.8 833.0,651.3 833.6,650.7 834.2,649.5 834.8,651.4 835.4,649.3 836.0,650.1 836.6,650.5 837.2,651.0 837.8,650.6 838.4,650.6 839.0,649.7 839.6,649.3 840.2,650.3 840.8,649.7 841.4,649.3 842.0,649.3 842.6,649.9 843.2,648.8 843.8,649.2 844.4,649.0 845.0,650.4 845.6,650.6 846.2,651.9 846.8,649.1 847.4,649.7 848.0,651.0 848.6,650.1 849.2,650.0 849.8,651.6 850.4,650.0 851.0,649.3 851.6,649.2 852.2,650.5 852.8,650.4 853.4,649.1 854.0,649.3 854.6,650.5 855.2,650.5 855.8,649.5 856.4,650.4 857.0,650.3 857.6,648.2 858.2,649.2 858.8,649.4 859.4,648.0 860.0,646.0 860.6,646.4 861.2,646.0 861.8,645.0 862.4,641.6 863.0,642.0 863.5,641.2 864.2,642.1 864.8,643.6 865.4,645.2 866.0,646.0 866.6,646.1 867.2,648.5 867.8,648.2 868.4,647.2 869.0,651.8 869.6,650.3 870.2,651.4 870.8,649.3 871.4,651.3 872.0,651.4 872.6,651.4 873.2,650.2 873.8,649.3 874.4,650.2"/>
<polyline stroke="#808000" points="122.0,397.7 122.6,398.4 123.2,399.0 123.8,398.4 124.4,398.0 125.0,398.6 125.6,397.8 126.2,398.5 126.8,398.0 127.4,400.7 128.0,399.2 128.6,397.9 129.2,397.7 129.8,398.2 130.4,397.2 131.0,398.0 131.6,397.9 132.2,399.2 132.8,398.2 133.4,397.9 134.0,397.4 134.6,397.6 135.2,398.4 135.8,398.3 136.4,399.4 137.0,398.0 137.6,399.3 138.2,398.6 138.8,398.4 139.4,396.8 140.0,397.3 140.6,398.9 141.2,399.4 141.8,398.4 142.4,398.8 143.0,397.8 143.6,397.8 144.2,397.5 144.8,398.8 145.4,398.2 146.0,397.6 146.6,397.4 147.2,398.0 147.8,397.7 148.4,396.6 149.0,398.4 149.6,397.0 150.2,396.5 150.8,397.4 151.4,396.6 152.0,395.2 152.6,395.0 153.2,392.9 153.8,392.1 154.4,389.4 155.0,390.2 155.6,385.0 156.2,382.9 156.8,375.3 157.4,364.2 158.0,342.8 158.6,293.1 159.2,189.9 159.8,62.0 160.0,48.2 160.4,97.6 161.0,230.8 161.6,314.9 162.2,352.5 162.8,369.2 163.4,378.5 164.0,384.0 164.6,387.8 165.2,390.5 165.8,391.5 166.4,392.7 167.0,394.9 167.6,393.7 168.2,395.2 168.8,397.5 169.4,394.5 170.0,396.4 170.6,397.8 171.2,396.2 171.8,399.8 172.4,395.9 173.0,399.2 173.6,399.5 174.2,399.1 174.8,398.3 175.4,398.9 176.0,398.0 176.6,399.5 177.2,398.1 177.8,398.9 178.4,400.0 179.0,398.4 179.6,399.1 180.2,399.6 180.8,398.5 181.4,400.6 182.0,400.1 182.6,398.7 183.2,399.9 183.8,399.4 184.4,399.6 185.0,400.2 185.6,399.7 186.2,401.1 186.8,399.8 187.4,401.3 188.0,400.5 188.6,401.3 189.2,400.3 189.8,400.4 190.4,399.9 191.0,401.4 191.6,401.7 192.2,402.7 192.8,402.1 193.4,401.4 194.0,401.1 194.6,401.6 195.2,401.3 195.8,402.6 196.4,402.2 197.0,400.9 197.6,401.1 198.2,402.8 198.8,402.0 199.4,401.6 200.0,402.8 200.6,401.6 201.2,401.8 201.8,401.7 202.4,400.5 203.0,402.9 203.6,401.3 204.2,401.8 204.8,401.7 205.4,403.0 206.0,402.4 206.6,402.5 207.2,401.2 207.8,402.6 208.4,401.5 209.0,403.0 209.6,403.1 210.2,402.9 210.8,404.6 211.4,403.4 212.0,403.5 212.6,403.2 213.2,403.0 213.8,404.0 214.4,404.2 215.0,402.3 215.6,404.2 216.2,403.9 216.8,404.3 217.4,403.9 218.0,402.6 218.6,402.7 219.2,405.2 219.8,404.0 220.4,402.7 221.0,404.2 221.6,403.7 222.2,402.5 222.8,402.2 223.4,402.8 224.0,404.4 224.6,404.2 225.2,404.1 225.8,404.6 226.4,404.9 227.0,402.8 227.6,404.2 228.2,403.9 228.8,403.6 229.4,404.2 230.0,404.6 230.6,404.5 231.2,403.6 231.8,404.5 232.4,406.5 233.0,404.1 233.6,403.6 234.2,405.2 234.8,405.5 235.4,405.5 236.0,404.2 236.6,406.0 237.2,404.6 237.8,404.3 238.4,404.8 239.0,405.2 239.6,405.9 240.2,405.9 240.8,405.4 241.4,406.1 242.0,405.5 242.6,406.1 243.2,404.3 243.8,404.1 244.4,405.9 245.0,404.2 245.6,405.0 246.2,405.0 246.8,404.6 247.4,404.4 248.0,405.6 248.6,402.0 249.2,404.1 249.8,404.2 250.4,400.8 251.0,398.5 251.6,396.2 252.2,393.4 252.8,386.7 253.4,383.2 254.0,378.9 254.6,376.4 255.0,375.7 255.8,378.0 256.4,381.2 257.0,385.9 257.6,389.7 258.2,393.5 258.8,397.0 259.4,399.4 260.0,400.2 260.6,403.6 261.2,403.0 261.8,402.6 262.4,404.9 263.0,403.7 263.6,404.8 264.2,404.5 264.8,404.8 265.4,404.9 266.0,404.3 266.6,404.8 267.2,406.5 267.8,403.1 268.4,404.9 269.0,405.2 269.6,404.0 270.2,403.8 270.8,406.6 271.4,404.6 272.0,406.5 272.6,405.2 273.2,404.9 273.8,405.1 274.4,405.3 275.0,405.7 275.6,405.0 276.2,404.8 276.8,404.8 277.4,405.7 278.0,405.2 278.6,403.7 279.2,404.0 279.8,404.7 280.4,403.9 281.0,404.1 281.6,403.6 282.2,404.1 282.8,404.6 283.4,405.0 284.0,404.2 284.6,405.8 285.2,404.1 285.8,406.6 286.4,404.8 287.0,404.4 287.6,403.6 288.2,401.7 288.8,403.8 289.4,404.0 290.0,405.3 290.6,402.7 291.2,405.2 291.8,403.5 292.4,404.2 293.0,401.6 293.6,403.7 294.2,403.2 294.8,404.0 295.4,403.5 296.0,402.5 296.6,404.1 297.2,403.9 297.8,403.7 298.4,404.0 299.0,404.1 299.6,403.1 300.2,402.0 300.8,402.0 301.4,404.3 302.0,403.8 302.6,403.3 303.2,402.9 303.8,403.3 304.4,403.4 305.0,403.1 305.6,402.8 306.2,405.2 306.8,403.6 307.4,403.0 308.0,402.5 308.6,403.0 309.2,404.2 309.8,404.2 310.4,403.5 311.0,403.7 311.6,403.5 312.2,402.8 312.8,404.8 313.4,404.1 314.0,405.8 314.6,403.2 315.2,403.8 315.8,404.6 316.4,403.7 317.0,402.9 317.6,403.2 318.2,404.1 318.8,404.3 319.4,404.0 320.0,404.9 320.6,404.9 321.2,404.4 321.8,404.2 322.4,404.0 323.0,404.7 323.6,405.0 324.2,404.4 324.8,404.7 325.4,404.1 326.0,403.3 326.6,403.6 327.2,405.0 327.8,404.8 328.4,405.8 329.0,404.6 329.6,405.2 330.2,405.6 330.8,405.4 331.4,404.1 332.0,404.5 332.6,404.7 333.2,403.9 333.8,405.1 334.4,405.5 335.0,404.3 335.6,406.3 336.2,404.5 336.8,404.6 337.4,404.6 338.0,404.2 338.6,405.1 339.2,404.8 339.8,406.2 340.4,405.3 341.0,405.3 341.6,404.7 342.2,403.7 342.8,404.8 343.4,404.2 344.0,405.6 344.6,404.8 345.2,406.2 345.8,405.4 346.4,405.5 347.0,404.9 347.6,404.9 348.2,405.2 348.8,405.4 349.4,404.0 350.0,404.9 350.6,406.5 351.2,404.1 351.8,403.8 352.4,403.3 353.0,402.5 353.6,404.3 354.2,403.1 354.8,402.9 355.4,403.6 356.0,403.4 356.6,399.6 357.2,399.7 357.8,397.2 358.4,394.1 359.0,390.2 359.6,384.7 360.2,380.1 360.8,372.8 361.4,366.5 362.0,362.3 362.5,360.7 363.2,362.9 363.8,367.7 364.4,374.7 365.0,379.7 365.6,384.5 366.2,388.1 366.8,391.5 367.4,393.0 368.0,395.0 368.6,395.5 369.2,393.4 369.8,394.1 370.4,393.1 371.0,390.3 371.6,385.8 372.2,381.8 372.8,370.4 373.4,351.1 374.0,313.9 374.6,247.1 375.2,160.2 375.6,132.7 376.4,218.0 377.0,295.3 377.6,341.9 378.2,365.5 378.8,378.2 379.4,383.8 380.0,389.6 380.6,392.9 381.2,394.2 381.8,396.1 382.4,396.0 383.0,396.3 383.6,397.4 384.2,399.2 384.8,399.1 385.4,398.8 386.0,399.2 386.0,399.2 386.6,399.9 387.2,400.1 387.8,399.9 388.4,401.2 389.0,400.3 389.6,400.6 390.2,400.5 390.8,402.1 391.4,402.1 392.0,402.4 392.6,402.3 393.2,403.9 393.8,402.6 394.4,402.5 395.0,404.2 395.6,404.4 396.2,403.6 396.8,402.0 397.4,402.9 398.0,403.9 398.6,403.5 399.2,404.7 399.8,402.4 400.4,404.1 401.0,403.1 401.6,404.7 402.2,403.6 402.8,404.5 403.4,403.2 404.0,402.6 404.6,402.8 405.2,403.3 405.8,402.9 406.4,404.7 407.0,404.8 407.6,404.0 408.2,402.9 408.8,403.7 409.4,403.2 410.0,404.8 410.6,403.8 411.2,403.8 411.8,402.8 412.4,401.2 413.0,401.7 413.6,400.9 414.2,401.5 414.8,400.8 415.4,400.1 416.0,400.2 416.0,400.2 416.6,400.1 417.2,400.4 417.8,401.2 418.4,401.4 419.0,402.2 419.6,403.4 420.2,404.7 420.8,402.2 421.4,403.8 422.0,404.0 422.6,404.0 423.2,404.0 423.8,403.9 424.4,405.0 425.0,403.9 425.6,404.2 426.2,404.3 426.8,404.4 427.4,404.2 428.0,405.2 428.6,404.4 429.2,404.5 429.8,404.4 430.4,403.6 431.0,403.8 431.6,403.6 432.2,404.6 432.8,403.9 433.4,403.6 434.0,404.7 434.6,404.9 435.2,403.1 435.8,405.9 436.4,404.5 437.0,404.4 437.6,405.4 438.2,404.6 438.8,404.0 439.4,406.3 440.0,403.6 440.6,404.4 441.2,405.2 441.8,403.6 442.4,404.4 443.0,404.8 443.6,406.3 444.2,403.7 444.8,404.3 445.4,404.9 446.0,404.4 446.6,403.3 447.2,404.6 447.8,404.3 448.4,404.5 449.0,405.0 449.6,404.9 450.2,404.4 450.8,404.2 451.4,403.0 452.0,403.7 452.6,403.8 453.2,403.2 453.8,403.5 454.4,402.6 455.0,404.3 455.6,404.5 456.2,402.2 456.8,402.5 457.4,401.6 458.0,402.3 458.6,401.1 459.2,400.0 459.8,398.8 460.4,397.7 461.0,395.0 461.6,393.9 462.2,389.1 462.8,384.3 463.4,373.6 464.0,355.1 464.6,319.4 465.2,266.5 465.8,217.5 466.0,213.2 466.4,229.6 467.0,285.6 467.6,333.2 468.2,362.8 468.8,376.1 469.4,386.4 470.0,389.9 470.6,395.3 471.2,395.0 471.8,397.4 472.4,398.1 473.0,401.6 473.6,400.0 474.2,401.7 474.8,401.7 475.4,401.0 476.0,402.5 476.6,403.6 477.2,403.1 477.8,404.2 478.4,403.3 479.0,403.8 479.6,403.6 480.2,404.3 480.8,405.6 481.4,404.4 482.0,404.4 482.6,403.8 483.2,403.7 483.8,405.5 484.4,403.5 485.0,403.7 485.6,404.4 486.2,404.1 486.8,406.0 487.4,402.6 488.0,404.8 488.6,405.0 489.2,403.5 489.8,403.9 490.4,404.7 491.0,405.6 491.6,403.4 492.2,402.8 492.8,404.7 493.4,404.9 494.0,403.2 494.6,401.3 495.2,403.6 495.8,401.4 496.4,401.1 497.0,398.3 497.6,395.6 498.2,392.5 498.8,390.4 499.4,386.3 500.0,381.1 500.6,379.5 501.0,379.2 501.8,380.9 502.4,383.5 503.0,388.1 503.6,391.7 504.2,395.0 504.8,397.4 505.4,399.6 506.0,401.0 506.6,402.7 507.2,402.5 507.8,403.4 508.4,403.9 509.0,405.3 509.6,404.7 510.2,404.5 510.8,405.1 511.4,405.1 512.0,405.8 512.6,405.4 513.2,406.5 513.8,406.2 514.4,405.1 515.0,404.9 515.6,406.0 516.2,405.7 516.8,405.3 517.4,404.2 518.0,403.9 518.6,405.7 519.2,406.1 519.8,406.1 520.4,404.5 521.0,406.4 521.6,405.2 522.2,405.9 522.8,406.0 523.4,405.1 524.0,405.3 524.6,404.1 525.2,405.1 525.8,404.4 526.4,406.2 527.0,405.9 527.6,406.6 528.2,406.2 528.8,405.5 529.4,406.3 530.0,405.7 530.6,406.5 531.2,406.3 531.8,405.3 532.4,406.1 533.0,406.2 533.6,405.9 534.2,406.9 534.8,407.6 535.4,405.9 536.0,406.0 536.6,404.5 537.2,406.2 537.8,406.0 538.4,404.6 539.0,406.6 539.6,406.8 540.2,405.8 540.8,406.1 541.4,405.7 542.0,407.0 542.6,405.2 543.2,406.2 543.8,408.0 544.4,406.5 545.0,406.9 545.6,406.4 546.2,405.6 546.8,406.5 547.4,406.8 548.0,405.7 548.6,406.8 549.2,407.5 549.8,407.4 550.4,405.2 551.0,405.7 551.6,405.1 552.2,407.2 552.8,406.8 553.4,406.8 554.0,405.5 554.6,405.2 555.2,406.1 555.8,406.0 556.4,405.1 557.0,405.8 557.6,406.0 558.2,405.5 558.8,404.2 559.4,403.0 560.0,404.0 560.6,403.7 561.2,402.3 561.8,400.7 562.4,398.3 563.0,396.5 563.6,391.9 564.2,387.0 564.8,380.2 565.4,374.4 566.0,369.2 566.6,365.3 567.0,364.7 567.8,367.6 568.4,373.5 569.0,379.2 569.6,386.2 570.2,390.3 570.8,394.5 571.4,397.0 572.0,400.1 572.6,403.4 573.2,403.7 573.8,404.8 574.4,405.3 575.0,405.1 575.6,405.3 576.2,405.8 576.8,406.4 577.4,406.4 578.0,406.6 578.6,406.4 579.2,405.8 579.8,406.3 580.4,405.8 581.0,407.5 581.6,405.1 582.2,406.6 582.8,408.8 583.4,406.6 584.0,406.0 584.6,407.0 585.2,408.1 585.8,406.9 586.4,407.6 587.0,407.2 587.6,406.9 588.2,409.7 588.8,407.3 589.4,406.8 590.0,406.9 590.6,407.6 591.2,407.6 591.8,407.9 592.4,407.4 593.0,406.2 593.6,407.8 594.2,407.1 594.8,407.2 595.4,406.2 596.0,407.0 596.6,406.9 597.2,407.4 597.8,406.3 598.4,407.5 599.0,407.6 599.6,406.6 600.2,407.0 600.8,406.8 601.4,408.3 602.0,405.5 602.6,407.3 603.2,406.2 603.8,407.2 604.4,408.3 605.0,407.1 605.6,407.7 606.2,406.9 606.8,409.2 607.4,408.4 608.0,408.5 608.6,406.6 609.2,406.8 609.8,408.5 610.4,407.5 611.0,407.5 611.6,408.0 612.2,406.7 612.8,408.3 613.4,407.7 614.0,408.1 614.6,407.2 615.2,408.1 615.8,407.1 616.4,408.5 617.0,408.6 617.6,408.4 618.2,408.1 618.8,408.2 619.4,405.5 620.0,408.3 620.6,407.4 621.2,407.7 621.8,407.4 622.4,406.5 623.0,407.2 623.6,408.1 624.2,408.7 624.8,407.0 625.4,406.7 626.0,408.5 626.6,406.6 627.2,408.9 627.8,407.2 628.4,406.4 629.0,407.7 629.6,408.1 630.2,405.4 630.8,407.6 631.4,405.8 632.0,406.8 632.6,404.6 633.2,402.7 633.8,402.9 634.4,401.1 635.0,399.2 635.6,395.2 636.2,389.8 636.8,384.0 637.4,378.8 638.0,374.8 638.6,372.7 638.8,372.7 639.2,373.1 639.8,376.9 640.4,381.6 641.0,388.9 641.6,392.4 642.2,395.5 642.8,399.7 643.4,400.7 644.0,403.0 644.6,403.2 645.2,406.6 645.8,406.5 646.4,405.5 647.0,406.7 647.6,407.8 648.2,407.6 648.8,407.7 649.4,406.8 650.0,407.1 650.6,407.8 651.2,408.5 651.8,407.2 652.4,407.0 653.0,408.9 653.6,407.3 654.2,409.0 654.8,408.3 655.4,408.9 656.0,409.6 656.6,408.8 657.2,408.9 657.8,407.6 658.4,407.8 659.0,408.9 659.6,409.6 660.2,409.6 660.8,410.3 661.4,408.7 662.0,408.7 662.6,409.3 663.2,408.6 663.8,408.5 664.4,407.7 665.0,409.4 665.6,407.7 666.2,409.0 666.8,407.5 667.4,409.5 668.0,407.8 668.6,409.3 669.2,407.4 669.8,408.3 670.4,409.6 671.0,408.1 671.6,408.8 672.2,408.3 672.8,406.9 673.4,409.0 674.0,409.1 674.6,407.9 675.2,409.2 675.8,408.1 676.4,408.0 677.0,408.8 677.6,408.2 678.2,410.6 678.8,407.6 679.4,409.4 680.0,409.6 680.6,407.2 681.2,407.4 681.8,409.2 682.4,408.4 683.0,409.1 683.6,409.7 684.2,408.4 684.8,407.9 685.4,406.5 686.0,408.9 686.6,407.9 687.2,408.9 687.8,408.8 688.4,407.5 689.0,410.0 689.6,409.4 690.2,409.2 690.8,407.6 691.4,408.2 692.0,408.0 692.6,408.1 693.2,407.5 693.8,408.7 694.4,408.5 695.0,408.5 695.6,407.8 696.2,409.2 696.8,408.2 697.4,405.8 698.0,407.4 698.6,407.8 699.2,408.5 699.8,407.4 700.4,407.3 701.0,406.8 701.6,407.7 702.2,406.6 702.8,406.3 703.4,406.0 704.0,406.7 704.6,405.5 705.2,404.2 705.8,405.6 706.4,404.0 707.0,404.1 707.6,403.1 708.2,402.3 708.8,400.1 709.4,395.8 710.0,391.7 710.6,384.8 711.2,379.3 711.8,368.5 712.4,357.9 713.0,344.9 713.6,334.0 714.2,328.4 714.5,327.2 714.8,327.7 715.4,333.1 716.0,342.4 716.6,352.4 717.2,359.5 717.8,368.1 718.4,370.5 719.0,371.3 719.6,371.4 720.2,367.3 720.8,363.0 721.4,360.5 721.8,360.7 722.6,364.7 723.2,370.1 723.8,375.7 724.4,382.4 725.0,387.7 725.6,393.6 726.2,397.7 726.8,400.5 727.4,401.0 728.0,403.0 728.6,404.2 729.2,403.9 729.8,404.6 730.4,406.7 731.0,405.3 731.6,405.9 732.2,404.9 732.8,405.1 733.4,403.5 734.0,404.4 734.6,404.7 735.2,404.4 735.8,402.0 736.4,399.2 737.0,395.3 737.6,390.4 738.2,385.4 738.8,379.9 739.4,372.9 740.0,368.6 740.6,365.7 740.8,365.7 741.2,366.5 741.8,370.0 742.4,375.6 743.0,383.8 743.6,388.6 744.2,394.0 744.8,398.7 745.4,401.8 746.0,402.5 746.6,405.4 747.2,405.7 747.8,406.1 748.4,406.9 749.0,405.8 749.6,406.6 750.2,407.4 750.8,408.1 751.4,407.5 752.0,407.8 752.6,408.8 753.2,409.3 753.8,408.9 754.4,409.3 755.0,408.1 755.6,408.2 756.2,408.8 756.8,408.3 757.4,408.2 758.0,410.0 758.6,408.5 759.2,407.9 759.8,409.1 760.4,410.2 761.0,408.8 761.6,409.8 762.2,408.4 762.8,408.4 763.4,408.2 764.0,408.7 764.6,410.3 765.2,407.9 765.8,410.1 766.4,407.9 767.0,408.5 767.6,409.4 768.2,409.2 768.8,408.9 769.4,407.3 770.0,408.8 770.6,407.7 771.2,410.5 771.8,408.2 772.4,408.4 773.0,407.2 773.6,407.6 774.2,406.8 774.8,408.5 775.4,407.3 776.0,407.7 776.6,406.3 777.2,406.1 777.8,406.9 778.4,404.3 779.0,402.5 779.6,402.5 780.2,398.8 780.8,395.7 781.4,392.0 782.0,384.3 782.6,378.2 783.2,368.9 783.8,362.2 784.4,355.8 785.0,353.2 785.0,353.2 785.6,355.3 786.2,361.6 786.8,370.2 787.4,376.4 788.0,385.8 788.6,390.3 789.2,395.5 789.8,398.4 790.4,404.0 791.0,404.1 791.6,405.4 792.2,405.5 792.8,407.5 793.4,405.4 794.0,407.4 794.6,409.5 795.2,407.6 795.8,408.1 796.4,408.8 797.0,407.8 797.6,408.6 798.2,409.4 798.8,408.9 799.4,409.1 800.0,408.7 800.6,409.3 801.2,409.1 801.8,410.3 802.4,409.7 803.0,409.0 803.6,407.3 804.2,409.9 804.8,409.9 805.4,408.6 806.0,407.8 806.6,408.5 807.2,410.2 807.8,408.6 808.4,409.1 809.0,409.7 809.6,410.5 810.2,409.5 810.8,409.5 811.4,409.2 812.0,410.9 812.6,410.5 813.2,409.6 813.8,408.5 814.4,409.0 815.0,410.1 815.6,409.1 816.2,410.4 816.8,410.0 817.4,409.9 818.0,410.2 818.6,410.1 819.2,409.0 819.8,409.5 820.4,411.6 821.0,408.8 821.6,409.4 822.2,410.6 822.8,409.6 823.4,409.1 824.0,408.7 824.6,410.2 825.2,410.6 825.8,410.9 826.4,409.8 827.0,410.6 827.6,409.0 828.2,409.9 828.8,409.2 829.4,409.9 830.0,410.4 830.6,410.6 831.2,409.0 831.8,410.8 832.4,409.4 833.0,408.9 833.6,409.6 834.2,408.5 834.8,409.7 835.4,409.9 836.0,409.5 836.6,410.1 837.2,409.4 837.8,409.6 838.4,408.4 839.0,409.6 839.6,408.9 840.2,409.1 840.8,409.4 841.4,409.5 842.0,408.0 842.6,408.0 843.2,408.9 843.8,409.4 844.4,409.2 845.0,409.4 845.6,409.5 846.2,408.5 846.8,407.5 847.4,406.0 848.0,404.9 848.6,403.7 849.2,402.0 849.8,399.1 850.4,395.3 851.0,391.1 851.6,387.5 852.2,383.8 852.8,381.9 853.0,381.7 853.4,382.1 854.0,384.3 854.6,388.8 855.2,393.0 855.8,396.5 856.4,399.7 857.0,404.6 857.6,404.2 858.2,406.1 858.8,407.5 859.4,407.0 860.0,408.5 860.6,410.2 861.2,409.7 861.8,409.7 862.4,409.8 863.0,409.5 863.6,410.3 864.2,409.5 864.8,409.4 865.4,409.9 866.0,410.6 866.6,410.2 867.2,410.5 867.8,408.4 868.4,411.0 869.0,411.9 869.6,411.2 870.2,409.9 870.8,409.5 871.4,410.4 872.0,409.4 872.6,410.8 873.2,409.8 873.8,411.0 874.4,411.3 875.0,408.6 875.6,410.5 876.2,409.7 876.8,409.1 877.4,409.8 878.0,410.1 878.6,411.1 879.2,409.0 879.8,411.1 880.4,411.8 881.0,410.7 881.6,410.6 882.2,410.1 882.8,409.1 883.4,410.4 884.0,410.2 884.6,410.4 885.2,411.7 885.8,410.1 886.4,409.6 887.0,410.3 887.6,407.6 888.2,407.4 888.8,407.5 889.4,406.8 890.0,407.3 890.6,405.8 891.2,406.8 891.8,406.0 892.4,404.7 893.0,403.5 893.6,403.5 894.2,403.2 894.2,403.2 894.8,403.4 895.4,403.9 896.0,404.2 896.6,405.8 897.2,406.1 897.8,405.1 898.4,406.5 899.0,406.2 899.6,407.9 900.2,407.1 900.8,408.8 901.4,408.6 902.0,409.2 902.6,408.4 903.2,407.2 903.8,409.5 904.4,407.5 905.0,408.1 905.6,406.4 906.2,405.3 906.8,404.7 907.4,401.7 908.0,400.5 908.6,396.1 909.2,395.7 909.8,393.8 910.4,393.2 910.5,393.2 911.0,393.6 911.6,395.6 912.2,395.5 912.8,398.9 913.4,400.4 914.0,403.9 914.6,404.4 915.2,406.5 915.8,407.0 916.4,408.7 917.0,409.7 917.6,409.0 918.2,409.7 918.8,408.8 919.4,410.4 920.0,411.0 920.6,410.0 921.2,411.4 921.8,408.9 922.4,409.2 923.0,409.6 923.6,410.4 924.2,410.8 924.8,410.8 925.4,410.9 926.0,411.5 926.6,410.6 927.2,410.0 927.8,410.0 928.4,412.7 929.0,409.2 929.6,411.0 930.2,412.3 930.8,411.5 931.4,410.5 932.0,411.2 932.6,411.9 933.2,412.1 933.8,410.5 934.4,411.8 935.0,411.4 935.6,412.1 936.2,412.3 936.8,410.9 937.4,410.1 938.0,411.5 938.6,412.6 939.2,411.7 939.8,411.4 940.4,413.1 941.0,410.3 941.6,411.8 942.2,410.6 942.8,411.0 943.4,410.9 944.0,411.9 944.6,409.6 945.2,409.4 945.8,407.9 946.4,408.7 947.0,407.1 947.6,406.5 948.2,405.7 948.5,405.7 948.8,405.9 949.4,406.3 950.0,407.7 950.6,408.8 951.2,409.0 951.8,408.7 952.4,411.2 953.0,410.9 953.6,411.8 954.2,409.5 954.8,409.9 955.4,409.5 956.0,410.6 956.6,412.2 957.2,411.8 957.8,411.4 958.4,411.5 959.0,412.1 959.6,411.2 960.2,411.8 960.8,411.6"/>
<polyline stroke="#ff0000" points="165.5,277.1 166.1,278.5 166.7,279.9 167.3,278.5 167.9,278.7 168.5,278.4 169.1,278.5 169.7,279.8 170.3,278.7 170.9,278.1 171.5,276.4 172.1,278.5 172.7,277.4 173.3,277.5 173.9,279.6 174.5,279.6 175.1,277.5 175.7,279.8 176.3,279.5 176.9,278.6 177.5,279.9 178.1,278.1 178.7,278.5 179.3,278.4 179.9,278.8 180.5,280.4 181.1,278.7 181.7,278.9 182.3,279.2 182.9,280.2 183.5,279.8 184.1,280.8 184.7,279.6 185.3,279.2 185.9,279.9 186.5,280.4 187.1,279.6 187.7,280.6 188.3,281.9 188.9,280.0 189.5,280.5 190.1,281.6 190.7,280.0 191.3,279.8 191.9,279.5 192.5,280.6 193.1,280.6 193.7,279.9 194.3,279.9 194.9,280.6 195.5,279.7 196.1,277.2 196.7,277.5 197.3,276.4 197.9,275.3 198.5,272.3 199.1,268.5 199.7,263.1 200.3,251.6 200.9,229.4 201.5,173.1 202.1,73.9 202.5,34.2 203.3,143.4 203.9,214.7 204.5,246.0 205.1,260.7 205.7,266.3 206.3,270.9 206.9,272.1 207.5,274.7 208.1,274.4 208.7,276.2 209.3,276.8 209.9,278.1 210.5,278.1 211.1,278.1 211.7,279.1 212.3,278.7 212.9,279.1 213.5,279.4 214.1,278.8 214.7,278.7 215.3,279.2 215.9,278.7 216.5,279.3 217.1,279.9 217.7,279.7 218.3,278.7 218.9,278.0 219.5,279.0 220.1,278.9 220.7,279.9 221.3,278.7 221.9,278.8 222.5,279.5 223.1,278.5 223.7,278.7 224.3,280.2 224.9,280.0 225.5,279.3 226.1,278.9 226.7,277.9 227.3,279.1 227.9,278.7 228.5,278.7 229.1,278.1 229.7,278.5 230.3,278.3 230.9,278.8 231.5,279.7 232.1,278.8 232.7,277.2 233.3,277.8 233.9,277.4 234.5,278.0 235.1,279.1 235.7,279.0 236.3,278.2 236.9,278.9 237.5,278.1 238.1,277.6 238.7,277.7 239.3,278.1 239.9,280.0 240.5,277.8 241.1,279.9 241.7,279.9 242.3,278.8 242.9,278.9 243.5,278.4 244.1,278.9 244.7,279.5 245.3,279.0 245.9,279.8 246.5,280.0 247.1,279.3 247.7,279.3 248.3,279.0 248.9,279.4 249.5,278.2 250.1,279.5 250.7,279.3 251.3,278.5 251.9,280.9 252.5,278.4 253.1,278.5 253.7,279.5 254.3,277.7 254.9,278.6 255.5,278.1 256.1,278.5 256.7,279.2 257.3,279.6 257.9,280.2 258.5,280.0 259.1,280.3 259.7,279.9 260.3,279.0 260.9,280.3 261.5,279.0 262.1,279.0 262.7,280.7 263.3,280.1 263.9,279.7 264.5,280.1 265.1,280.2 265.7,278.4 266.3,279.5 266.9,278.6 267.5,279.7 268.1,279.1 268.7,280.7 269.3,280.0 269.9,279.0 270.5,279.6 271.1,278.7 271.7,279.7 272.3,280.1 272.9,279.9 273.5,278.2 274.1,279.4 274.7,280.1 275.3,280.0 275.9,280.7 276.5,278.7 277.1,280.2 277.7,279.2 278.3,279.9 278.9,280.1 279.5,280.3 280.1,279.3 280.7,279.9 281.3,278.8 281.9,278.6 282.5,280.1 283.1,279.6 283.7,278.4 284.3,279.0 284.9,279.6 285.5,280.8 286.1,280.4 286.7,280.1 287.3,278.0 287.9,279.2 288.5,279.6 289.1,279.4 289.7,279.3 290.3,278.5 290.9,279.8 291.5,279.1 292.1,277.2 292.7,275.5 293.3,276.6 293.9,272.6 294.5,271.5 295.1,269.2 295.7,263.8 296.3,261.5 296.9,259.0 297.5,258.2 297.5,258.2 298.1,259.6 298.7,261.7 299.3,264.5 299.9,268.6 300.5,270.5 301.1,272.8 301.7,276.8 302.3,275.8 302.9,277.1 303.5,278.2 304.1,277.8 304.7,277.3 305.3,280.0 305.9,278.7 306.5,279.1 307.1,279.3 307.7,278.9 308.3,278.9 308.9,280.0 309.5,281.8 310.1,280.6 310.7,280.6 311.3,278.9 311.9,280.1 312.5,279.2 313.1,280.8 313.7,280.0 314.3,280.3 314.9,280.2 315.5,279.8 316.1,279.1 316.7,280.8 317.3,279.3 317.9,279.4 318.5,280.2 319.1,279.9 319.7,280.7 320.3,281.3 320.9,280.7 321.5,280.7 322.1,280.6 322.7,281.3 323.3,279.2 323.9,281.0 324.5,280.0 325.1,279.8 325.7,280.8 326.3,280.5 326.9,281.3 327.5,281.7 328.1,279.0 328.7,280.9 329.3,282.5 329.9,281.7 330.5,282.2 331.1,281.1 331.7,279.9 332.3,280.2 332.9,281.7 333.5,281.9 334.1,280.6 334.7,281.0 335.3,281.5 335.9,279.9 336.5,281.0 337.1,282.6 337.7,283.1 338.3,281.3 338.9,282.9 339.5,281.0 340.1,280.8 340.7,279.7 341.3,282.3 341.9,281.3 342.5,283.5 343.1,281.9 343.7,281.8 344.3,280.2 344.9,282.9 345.5,281.4 346.1,281.6 346.7,280.0 347.3,282.6 347.9,282.6 348.5,281.4 349.1,282.0 349.7,282.2 350.3,282.7 350.9,282.1 351.5,283.4 352.1,281.8 352.7,281.6 353.3,281.7 353.9,280.1 354.5,281.5 355.1,283.0 355.7,282.4 356.3,281.5 356.9,282.5 357.5,280.6 358.1,282.0 358.7,282.7 359.3,282.9 359.9,281.7 360.5,283.1 361.1,283.9 361.7,282.1 362.3,283.0 362.9,281.2 363.5,280.9 364.1,283.0 364.7,282.6 365.3,282.7 365.9,282.1 366.5,282.4 367.1,283.3 367.7,284.0 368.3,282.5 368.9,281.4 369.5,283.7 370.1,283.2 370.7,283.3 371.3,282.9 371.9,284.6 372.5,282.9 373.1,283.2 373.7,281.3 374.3,282.4 374.9,282.3 375.5,282.8 376.1,283.2 376.7,282.3 377.3,284.3 377.9,282.1 378.5,282.6 379.1,283.1 379.7,281.9 380.3,283.4 380.9,283.5 381.5,282.7 382.1,284.5 382.7,283.0 383.3,283.2 383.9,282.2 384.5,281.6 385.1,282.4 385.7,282.7 386.3,282.6 386.9,283.5 387.5,281.0 388.1,282.0 388.7,281.4 389.3,283.9 389.9,282.3 390.5,282.3 391.1,281.8 391.7,283.4 392.3,282.2 392.9,282.7 393.5,280.8 394.1,283.2 394.7,282.5 395.3,282.4 395.9,282.8 396.5,281.4 397.1,281.2 397.7,281.5 398.3,280.8 398.9,279.6 399.5,278.9 400.1,277.0 400.7,276.0 401.3,273.4 401.9,269.0 402.5,265.9 403.1,257.9 403.7,253.4 404.3,249.2 404.9,245.3 405.2,244.7 406.1,247.7 406.7,251.8 407.3,255.5 407.9,261.9 408.5,264.5 409.1,267.3 409.7,270.3 410.3,271.2 410.9,271.0 411.5,271.2 412.1,269.6 412.7,268.7 413.3,266.0 413.9,263.0 414.5,256.7 415.1,247.9 415.7,235.0 416.3,214.7 416.9,182.5 417.5,132.0 418.1,68.4 418.7,16.5 419.0,8.2 419.3,16.6 419.9,68.7 420.5,132.2 421.1,182.2 421.7,215.3 422.3,236.9 422.9,249.6 423.5,258.2 423.5,258.2 424.1,264.8 424.7,268.2 425.3,271.0 425.9,272.5 426.5,276.0 427.1,275.4 427.7,277.3 428.3,279.2 428.9,278.8 429.5,281.7 430.1,281.9 430.7,281.0 431.3,281.4 431.9,281.2 432.5,281.4 433.1,283.1 433.7,283.4 434.3,283.4 434.9,283.5 435.5,283.0 436.1,283.8 436.7,282.5 437.3,283.7 437.9,285.0 438.5,284.9 439.1,283.6 439.7,283.7 440.3,285.1 440.9,285.5 441.5,282.9 442.1,283.8 442.7,284.3 443.3,285.1 443.9,283.5 444.5,284.7 445.1,283.9 445.7,286.1 446.3,284.5 446.9,284.0 447.5,283.8 448.1,284.9 448.7,284.6 449.3,283.2 449.9,284.1 450.5,282.9 451.1,283.3 451.7,282.7 452.3,282.6 452.9,282.9 453.5,282.4 454.1,283.2 454.7,282.9 455.3,281.3 455.9,279.8 456.5,280.4 457.1,278.1 457.7,278.0 458.2,278.2 458.9,278.6 459.5,279.6 460.1,279.8 460.7,279.8 461.3,281.2 461.9,282.8 462.5,282.2 463.1,282.7 463.7,282.4 464.3,282.7 464.9,284.5 465.5,284.3 466.1,283.0 466.7,283.1 467.3,283.6 467.9,284.5 468.5,283.1 469.1,283.9 469.7,282.3 470.3,283.1 470.9,284.5 471.5,285.0 472.1,283.4 472.7,283.8 473.3,285.1 473.9,284.2 474.5,284.2 475.1,285.1 475.7,284.9 476.3,285.7 476.9,285.5 477.5,284.4 478.1,284.8 478.7,284.9 479.3,284.0 479.9,284.3 480.5,285.9 481.1,283.9 481.7,286.0 482.3,285.5 482.9,285.2 483.5,285.8 484.1,285.8 484.7,286.4 485.3,285.1 485.9,285.3 486.5,285.2 487.1,286.9 487.7,286.1 488.3,284.6 488.9,285.0 489.5,284.7 490.1,285.2 490.7,285.3 491.3,286.9 491.9,283.6 492.5,285.8 493.1,285.2 493.7,284.2 494.3,284.5 494.9,284.1 495.5,284.4 496.1,285.0 496.7,282.7 497.3,284.8 497.9,283.1 498.5,284.3 499.1,283.0 499.7,283.2 500.3,282.0 500.9,281.7 501.5,280.0 502.1,278.2 502.7,277.9 503.3,276.0 503.9,274.6 504.5,267.7 505.1,263.8 505.7,256.4 506.3,240.6 506.9,219.1 507.5,186.9 508.1,143.0 508.7,105.9 509.0,100.2 509.3,106.2 509.9,142.8 510.5,185.9 511.1,219.5 511.7,241.1 512.3,255.3 512.9,264.8 513.5,269.7 514.1,274.6 514.7,275.5 515.3,275.7 515.9,278.9 516.5,280.5 517.1,281.5 517.7,282.0 518.3,281.9 518.9,284.3 519.5,283.0 520.1,284.5 520.7,284.0 521.3,283.5 521.9,285.9 522.5,282.9 523.1,284.4 523.7,285.6 524.3,285.1 524.9,286.1 525.5,285.6 526.1,285.4 526.7,287.5 527.3,285.7 527.9,285.8 528.5,285.1 529.1,285.4 529.7,286.6 530.3,286.5 530.9,286.1 531.5,285.5 532.1,286.6 532.7,284.6 533.3,285.7 533.9,285.7 534.5,285.1 535.1,285.8 535.7,285.0 536.3,284.7 536.9,286.5 537.5,285.2 538.1,284.9 538.7,283.0 539.3,282.4 539.9,280.3 540.5,278.0 541.1,275.5 541.7,269.5 542.3,265.6 542.9,261.4 543.5,257.8 544.0,257.7 544.7,259.3 545.3,263.0 545.9,266.5 546.5,272.0 547.1,276.0 547.7,277.8 548.3,281.7 548.9,283.7 549.5,283.9 550.1,283.6 550.7,286.2 551.3,285.3 551.9,285.4 552.5,286.0 553.1,285.7 553.7,287.1 554.3,287.0 554.9,287.4 555.5,287.0 556.1,286.0 556.7,286.5 557.3,287.4 557.9,286.5 558.5,289.2 559.1,286.7 559.7,286.4 560.3,287.8 560.9,287.6 561.5,287.0 562.1,286.8 562.7,287.4 563.3,287.7 563.9,287.7 564.5,286.8 565.1,287.4 565.7,287.8 566.3,287.7 566.9,284.7 567.5,286.4 568.1,286.5 568.7,287.0 569.3,287.3 569.9,287.9 570.5,287.7 571.1,287.1 571.7,287.2 572.3,288.6 572.9,286.7 573.5,287.4 574.1,288.4 574.7,287.5 575.3,285.6 575.9,287.5 576.5,286.9 577.1,287.1 577.7,288.0 578.3,287.6 578.9,287.0 579.5,287.9 580.1,287.5 580.7,287.3 581.3,287.4 581.9,287.4 582.5,286.9 583.1,286.8 583.7,287.2 584.3,286.4 584.9,286.1 585.5,288.2 586.1,286.9 586.7,287.1 587.3,287.0 587.9,287.1 588.5,287.1 589.1,287.1 589.7,286.4 590.3,287.7 590.9,286.4 591.5,287.8 592.1,285.4 592.7,286.1 593.3,287.7 593.9,286.8 594.5,286.3 595.1,287.1 595.7,285.9 596.3,286.8 596.9,284.9 597.5,286.2 598.1,285.9 598.7,286.8 599.3,286.9 599.9,285.4 600.5,287.2 601.1,285.2 601.7,283.8 602.3,283.1 602.9,285.7 603.5,283.7 604.1,282.1 604.7,280.3 605.3,277.7 605.9,276.3 606.5,270.8 607.1,266.9 607.7,259.2 608.3,251.6 608.9,247.9 609.5,244.5 609.8,244.2 610.1,245.0 610.7,248.3 611.3,254.8 611.9,260.5 612.5,265.9 613.1,272.2 613.7,275.5 614.3,280.2 614.9,282.2 615.5,283.1 616.1,284.6 616.7,285.3 617.3,285.2 617.9,286.5 618.5,285.9 619.1,286.8 619.7,285.8 620.3,286.8 620.9,287.2 621.5,286.3 622.1,286.7 622.7,286.7 623.3,287.8 623.9,286.8 624.5,287.7 625.1,288.7 625.7,287.8 626.3,286.3 626.9,287.7 627.5,288.5 628.1,287.5 628.7,288.6 629.3,288.3 629.9,288.2 630.5,287.6 631.1,287.5 631.7,287.7 632.3,288.0 632.9,288.4 633.5,288.3 634.1,287.8 634.7,288.1 635.3,288.4 635.9,286.8 636.5,287.5 637.1,287.5 637.7,288.0 638.3,287.9 638.9,288.0 639.5,287.5 640.1,288.8 640.7,288.5 641.3,286.9 641.9,288.3 642.5,287.4 643.1,289.7 643.7,287.9 644.3,288.0 644.9,288.4 645.5,288.2 646.1,288.3 646.7,289.6 647.3,288.6 647.9,289.1 648.5,289.3 649.1,287.6 649.7,289.8 650.3,289.0 650.9,289.2 651.5,287.8 652.1,289.1 652.7,288.8 653.3,288.0 653.9,290.3 654.5,288.9 655.1,288.3 655.7,288.7 656.3,289.2 656.9,289.4 657.5,289.0 658.1,289.5 658.7,289.7 659.3,287.5 659.9,288.1 660.5,287.8 661.1,288.6 661.7,289.7 662.3,289.1 662.9,287.7 663.5,288.3 664.1,289.4 664.7,288.1 665.3,288.5 665.9,288.8 666.5,287.1 667.1,289.1 667.7,288.7 668.3,288.9 668.9,287.6 669.5,287.7 670.1,287.8 670.7,288.4 671.3,288.2 671.9,288.2 672.5,289.4 673.1,288.8 673.7,287.0 674.3,286.8 674.9,288.3 675.5,286.2 676.1,286.8 676.7,285.8 677.3,282.5 677.9,280.3 678.5,277.4 679.1,272.6 679.7,267.8 680.3,263.2 680.9,259.0 681.5,255.1 682.0,254.2 682.7,256.0 683.3,259.5 683.9,266.4 684.5,268.5 685.1,274.5 685.7,279.2 686.3,280.6 686.9,284.4 687.5,286.4 688.1,285.7 688.7,287.3 689.3,286.8 689.9,288.4 690.5,288.4 691.1,288.7 691.7,289.8 692.3,289.2 692.9,290.1 693.5,289.6 694.1,288.3 694.7,289.5 695.3,289.8 695.9,288.3 696.5,290.6 697.1,289.7 697.7,290.0 698.3,289.0 698.9,289.8 699.5,290.1 700.1,289.6 700.7,290.0 701.3,288.3 701.9,291.1 702.5,289.1 703.1,288.3 703.7,289.3 704.3,289.5 704.9,290.6 705.5,289.5 706.1,290.5 706.7,289.5 707.3,292.1 707.9,290.8 708.5,291.9 709.1,289.6 709.7,290.9 710.3,289.7 710.9,290.9 711.5,291.0 712.1,289.2 712.7,289.6 713.3,289.6 713.9,289.4 714.5,290.0 715.1,289.8 715.7,289.5 716.3,290.7 716.9,291.1 717.5,289.6 718.1,290.3 718.7,290.7 719.3,290.5 719.9,290.2 720.5,291.4 721.1,291.5 721.7,291.3 722.3,290.6 722.9,292.4 723.5,292.2 724.1,290.5 724.7,290.8 725.3,291.8 725.9,290.2 726.5,291.2 727.1,290.9 727.7,290.3 728.3,290.7 728.9,289.7 729.5,290.5 730.1,289.3 730.7,292.7 731.3,292.1 731.9,291.9 732.5,291.2 733.1,291.7 733.7,291.9 734.3,291.7 734.9,291.6 735.5,290.1 736.1,291.2 736.7,290.4 737.3,289.9 737.9,289.9 738.5,291.1 739.1,291.5 739.7,289.6 740.3,292.0 740.9,291.7 741.5,290.2 742.1,290.1 742.7,290.3 743.3,291.0 743.9,289.8 744.5,289.1 745.1,290.1 745.7,288.1 746.3,289.6 746.9,290.2 747.5,289.3 748.1,289.4 748.7,288.8 749.3,288.5 749.9,287.5 750.5,286.1 751.1,285.6 751.7,284.5 752.3,283.7 752.9,281.2 753.5,276.3 754.1,269.8 754.7,262.3 755.3,253.2 755.9,243.2 756.5,229.9 757.1,217.8 757.7,208.8 758.2,205.7 758.9,209.0 759.5,217.1 760.1,227.5 760.7,238.7 761.3,245.1 761.9,251.6 762.5,253.1 763.1,251.3 763.7,248.9 764.3,244.4 764.9,241.1 765.5,240.7 765.5,240.7 766.1,243.4 766.7,248.7 767.3,255.9 767.9,263.1 768.5,266.3 769.1,274.4 769.7,277.0 770.3,281.7 770.9,283.2 771.5,285.5 772.1,287.6 772.7,285.8 773.3,287.8 773.9,287.9 774.5,286.7 775.1,288.8 775.7,288.2 776.3,287.6 776.9,287.0 777.5,289.5 778.1,285.5 778.7,282.7 779.3,280.9 779.9,277.8 780.5,273.0 781.1,267.4 781.7,259.9 782.3,254.1 782.9,247.7 783.5,244.4 783.8,244.2 784.1,244.9 784.7,249.3 785.3,255.6 785.9,262.1 786.5,269.2 787.1,275.2 787.7,281.4 788.3,282.8 788.9,286.3 789.5,288.3 790.1,288.1 790.7,289.9 791.3,290.5 791.9,290.4 792.5,291.6 793.1,292.3 793.7,292.6 794.3,291.8 794.9,292.2 795.5,294.1 796.1,291.5 796.7,292.7 797.3,293.3 797.9,292.8 798.5,293.3 799.1,293.0 799.7,293.6 800.3,294.1 800.9,292.9 801.5,293.3 802.1,293.2 802.7,292.9 803.3,293.3 803.9,292.4 804.5,294.0 805.1,294.8 805.7,294.8 806.3,294.5 806.9,292.7 807.5,294.7 808.1,293.0 808.7,293.5 809.3,295.0 809.9,292.7 810.5,294.2 811.1,293.8 811.7,293.4 812.3,292.8 812.9,293.8 813.5,293.1 814.1,294.3 814.7,294.3 815.3,292.2 815.9,292.8 816.5,292.9 817.1,292.1 817.7,292.0 818.3,292.8 818.9,292.3 819.5,290.9 820.1,291.4 820.7,291.8 821.3,289.7 821.9,288.9 822.5,289.4 823.1,286.9 823.7,281.3 824.3,277.1 824.9,272.8 825.5,264.6 826.1,257.7 826.7,250.0 827.3,244.2 827.9,241.2 828.0,241.2 828.5,242.5 829.1,248.5 829.7,255.3 830.3,261.9 830.9,271.0 831.5,277.3 832.1,281.5 832.7,285.0 833.3,288.3 833.9,290.7 834.5,291.0 835.1,292.2 835.7,292.3 836.3,292.5 836.9,292.5 837.5,293.7 838.1,293.5 838.7,293.7 839.3,294.9 839.9,294.7 840.5,295.1 841.1,293.3 841.7,295.1 842.3,294.3 842.9,294.2 843.5,294.3 844.1,296.0 844.7,295.8 845.3,294.6 845.9,294.3 846.5,295.3 847.1,295.0 847.7,296.7 848.3,294.3 848.9,294.0 849.5,295.3 850.1,295.6 850.7,295.7 851.3,296.3 851.9,297.4 852.5,295.5 853.1,295.4 853.7,294.4 854.3,296.1 854.9,296.6 855.5,295.7 856.1,296.9 856.7,296.0 857.3,297.2 857.9,296.3 858.5,295.2 859.1,295.6 859.7,294.9 860.3,294.8 860.9,296.4 861.5,296.9 862.1,297.8 862.7,296.2 863.3,296.1 863.9,295.4 864.5,297.1 865.1,296.7 865.7,295.9 866.3,297.0 866.9,296.9 867.5,295.0 868.1,297.1 868.7,296.6 869.3,296.2 869.9,296.2 870.5,297.9 871.1,297.8 871.7,298.0 872.3,295.7 872.9,296.1 873.5,297.3 874.1,295.7 874.7,296.1 875.3,295.2 875.9,298.1 876.5,297.5 877.1,297.0 877.7,296.8 878.3,296.3 878.9,296.3 879.5,297.1 880.1,296.1 880.7,297.6 881.3,296.2 881.9,295.9 882.5,297.6 883.1,296.4 883.7,296.9 884.3,296.1 884.9,294.5 885.5,296.7 886.1,295.0 886.7,296.8 887.3,294.6 887.9,294.1 888.5,295.5 889.1,295.1 889.7,294.2 890.3,292.2 890.9,292.4 891.5,288.4 892.1,286.4 892.7,282.4 893.3,278.2 893.9,274.2 894.5,268.2 895.1,264.7 895.7,262.8 895.8,262.7 896.3,263.5 896.9,267.0 897.5,271.5 898.1,277.3 898.7,280.3 899.3,286.4 899.9,289.6 900.5,291.2 901.1,291.9 901.7,294.1 902.3,294.4 902.9,295.7 903.5,295.5 904.1,296.4 904.7,295.7 905.3,297.3 905.9,294.4 906.5,295.5 907.1,296.7 907.7,295.2 908.3,297.0 908.9,295.4 909.5,296.5 910.1,295.7 910.7,296.0 911.3,296.5 911.9,296.3 912.5,296.0 913.1,298.0 913.7,296.3 914.3,295.5 914.9,296.9 915.5,296.8 916.1,297.1 916.7,297.5 917.3,295.3 917.9,296.8 918.5,296.8 919.1,295.9 919.7,296.0 920.3,293.3 920.9,295.2 921.5,297.0 922.1,294.1 922.7,295.0 923.3,295.6 923.9,295.7 924.5,296.5 925.1,293.6 925.7,294.9 926.3,295.4 926.9,293.5 927.5,294.3 928.1,295.6 928.7,294.8 929.3,293.8 929.9,290.8 930.5,292.2 931.1,292.0 931.7,290.8 932.3,290.2 932.9,291.9 933.5,288.3 934.1,286.9 934.7,287.0 935.3,285.9 935.9,285.4 936.5,285.2 936.7,285.2 937.1,285.3 937.7,285.0 938.3,285.8 938.9,286.9 939.5,286.9 940.1,288.9 940.7,289.3 941.3,288.5 941.9,290.2 942.5,292.0 943.1,292.0 943.7,291.0 944.3,292.0 944.9,290.8 945.5,290.1 946.1,291.4 946.7,290.7 947.3,290.3 947.9,288.9 948.5,287.9 949.1,285.7 949.7,284.5 950.3,282.6 950.9,279.5 951.5,277.7 952.1,274.5 952.7,273.8 953.1,273.7 953.9,275.2 954.5,276.5 955.1,278.5 955.7,279.9 956.3,283.5 956.9,285.8 957.5,285.7 958.1,288.7 958.7,289.7 959.3,290.4 959.9,289.7 960.5,291.5 961.1,290.2 961.7,292.8 962.3,291.8 962.9,290.9 963.5,293.0 964.1,293.0 964.7,291.6 965.3,293.9 965.9,291.4 966.5,292.5 967.1,293.2 967.7,290.4 968.3,293.1 968.9,292.2 969.5,292.3 970.1,291.4 970.7,292.6 971.3,291.4 971.9,291.5 972.5,291.9 973.1,291.3 973.7,293.6 974.3,291.2 974.9,291.7 975.5,292.0 976.1,292.3 976.7,292.9 977.3,292.9 977.9,292.0 978.5,291.9 979.1,292.2 979.7,292.8 980.3,292.7 980.9,291.7 981.5,290.4 982.1,293.8 982.7,292.8 983.3,292.2 983.9,292.2 984.5,291.5 985.1,291.0 985.7,291.4 986.3,291.4 986.9,290.8 987.5,289.8 988.1,290.2 988.7,290.3 989.3,288.5 989.9,287.9 990.5,286.2 991.1,286.3 991.4,286.2 991.7,286.1 992.3,286.3 992.9,288.1 993.5,288.1 994.1,290.0 994.7,290.0 995.3,291.3 995.9,290.8 996.5,290.1 997.1,291.3 997.7,291.2 998.3,292.0 998.9,291.1 999.5,291.2 1000.1,292.2 1000.7,292.5 1001.3,292.1 1001.9,292.4 1002.5,291.9 1003.1,292.1 1003.7,292.2"/>
<polyline stroke="#0000ff" clip-path="url(#cp)" points="412.1,522.9 412.7,522.6 413.3,523.9 413.9,523.1 414.5,520.6 415.1,519.2 415.7,518.4 416.3,517.0 416.9,514.1 417.5,512.8 418.1,508.3 418.7,503.6 419.3,498.3 419.9,486.2 420.5,468.3 421.1,436.8 421.7,383.1 422.3,303.5 422.9,221.5 423.3,199.2 424.1,274.6 424.7,359.2 425.3,420.3 425.9,459.5 426.5,482.2 427.1,494.9 427.7,503.9 428.3,508.9 428.9,511.2 429.5,514.4 430.1,515.6 430.7,518.5 431.3,519.8 431.9,522.9 432.5,521.7 433.1,520.7 433.7,522.4 434.3,523.5 434.9,522.9"/>
<polyline stroke="#ff00ff" clip-path="url(#cp2)" points="365.0,644.7 365.6,644.2 366.2,643.7 366.8,644.2 367.4,642.1 368.0,643.5 368.6,642.9 369.2,642.4 369.8,641.9 370.4,640.4 371.0,639.9 371.6,639.7 372.2,638.4 372.8,636.8 373.4,633.7 374.0,633.2 374.6,630.9 375.2,627.2 375.8,621.8 376.4,613.7 377.0,606.1 377.6,590.1 378.2,562.7 378.8,520.6 379.4,445.3 380.0,337.4 380.6,225.5 381.0,195.2 381.8,297.3 382.4,413.8 383.0,500.9 383.6,553.9 384.2,583.2 384.8,601.0 385.4,611.3 386.0,619.2 386.6,625.4 387.2,629.4 387.8,632.2 388.4,635.2 389.0,635.7 389.6,637.8 390.2,639.6 390.8,640.5 391.4,641.8 392.0,641.9 392.6,642.0 393.2,643.1 393.8,642.4 394.4,642.3 395.0,644.4"/>
</g>
<g stroke="#111" stroke-width="3" fill="none">
<line x1="13.4" y1="680.8" x2="876.9" y2="680.8"/>
<line x1="14.80" y1="679.8" x2="14.80" y2="694"/><line x1="110.40" y1="679.8" x2="110.40" y2="694"/><line x1="206.00" y1="679.8" x2="206.00" y2="694"/><line x1="301.60" y1="679.8" x2="301.60" y2="694"/><line x1="397.20" y1="679.8" x2="397.20" y2="694"/><line x1="492.80" y1="679.8" x2="492.80" y2="694"/><line x1="588.40" y1="679.8" x2="588.40" y2="694"/><line x1="684.00" y1="679.8" x2="684.00" y2="694"/><line x1="779.60" y1="679.8" x2="779.60" y2="694"/><line x1="875.20" y1="679.8" x2="875.20" y2="694"/><line x1="62.60" y1="679.8" x2="62.60" y2="688"/><line x1="158.20" y1="679.8" x2="158.20" y2="688"/><line x1="253.80" y1="679.8" x2="253.80" y2="688"/><line x1="349.40" y1="679.8" x2="349.40" y2="688"/><line x1="445.00" y1="679.8" x2="445.00" y2="688"/><line x1="540.60" y1="679.8" x2="540.60" y2="688"/><line x1="636.20" y1="679.8" x2="636.20" y2="688"/><line x1="731.80" y1="679.8" x2="731.80" y2="688"/><line x1="827.40" y1="679.8" x2="827.40" y2="688"/>
</g>
<g style="font-family:'Liberation Serif','Times New Roman',serif;font-size:31.3px" fill="#000" text-anchor="middle">
<text x="14.80" y="726">15</text><text x="110.40" y="726">20</text><text x="206.00" y="726">25</text><text x="301.60" y="726">30</text><text x="397.20" y="726">35</text><text x="492.80" y="726">40</text><text x="588.40" y="726">45</text><text x="684.00" y="726">50</text><text x="779.60" y="726">55</text><text x="875.20" y="726">60</text>
</g>
<g style="font-family:'Liberation Serif','Times New Roman',serif;font-size:31.3px" fill="#000">
<text x="832" y="241.5">20 mL (63.6%)</text>
<text x="827" y="371.3">10 mL (47.7%)</text>
<text x="833" y="492">5 mL (40.0%)</text>
<text x="844.5" y="617.5">0 mL (1.3%)</text>
<text x="357" y="764">2 theta(degrees)</text>
</g>
</svg>
</body></html>
